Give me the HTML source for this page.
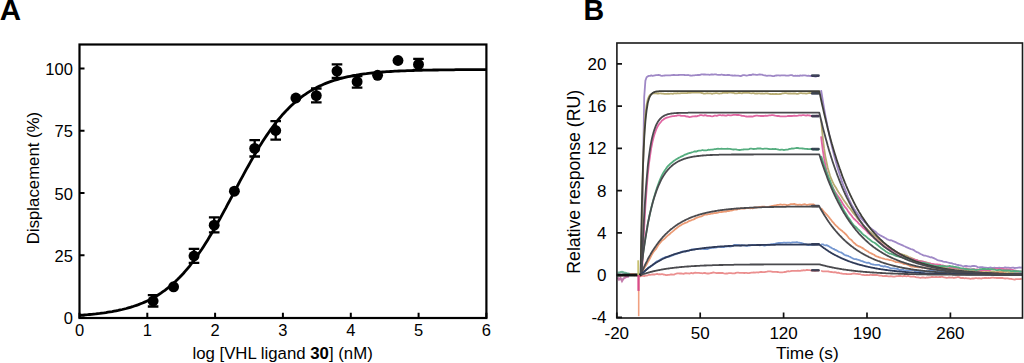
<!DOCTYPE html>
<html><head><meta charset="utf-8"><style>
html,body{margin:0;padding:0;background:#fff;width:1024px;height:363px;overflow:hidden}
svg{display:block}
text{font-family:"Liberation Sans",sans-serif;font-size:16.5px;fill:#000}
.pb text{font-size:17px}
.big{font-weight:bold;font-size:28px}
</style></head><body>
<svg width="1024" height="363" viewBox="0 0 1024 363">
<text class="big" x="-0.2" y="20.3" style="font-size:29.5px">A</text>
<text class="big" x="583.6" y="20.3" style="font-size:28.6px">B</text>
<rect x="79.5" y="44.5" width="406.9" height="273.5" fill="none" stroke="#000" stroke-width="2.2"/>
<path d="M79.5 317.5H84.5M79.5 255.3H84.5M79.5 193.1H84.5M79.5 130.8H84.5M79.5 68.6H84.5M79.5 318V312.8M147.3 318V312.8M215.1 318V312.8M282.9 318V312.8M350.8 318V312.8M418.6 318V312.8M486.4 318V312.8" stroke="#000" stroke-width="2" fill="none"/>
<text x="72.9" y="324" text-anchor="end">0</text>
<text x="72.9" y="261.8" text-anchor="end">25</text>
<text x="72.9" y="199.6" text-anchor="end">50</text>
<text x="72.9" y="137.3" text-anchor="end">75</text>
<text x="72.9" y="75.1" text-anchor="end">100</text>
<text x="79.5" y="336.2" text-anchor="middle">0</text>
<text x="147.3" y="336.2" text-anchor="middle">1</text>
<text x="215.1" y="336.2" text-anchor="middle">2</text>
<text x="282.9" y="336.2" text-anchor="middle">3</text>
<text x="350.8" y="336.2" text-anchor="middle">4</text>
<text x="418.6" y="336.2" text-anchor="middle">5</text>
<text x="486.4" y="336.2" text-anchor="middle">6</text>
<text x="282.6" y="359.1" text-anchor="middle" style="font-size:16.8px">log [VHL ligand <tspan font-weight="bold">30</tspan>] (nM)</text>
<text transform="translate(38.7 178) rotate(-90)" text-anchor="middle" style="font-size:16.8px">Displacement (%)</text>
<path d="M79.5,315.3 L81.5,315.1 L83.6,315 L85.6,314.8 L87.6,314.7 L89.7,314.5 L91.7,314.3 L93.7,314.1 L95.8,313.9 L97.8,313.6 L99.8,313.4 L101.9,313.1 L103.9,312.9 L105.9,312.6 L108,312.2 L110,311.9 L112.1,311.6 L114.1,311.2 L116.1,310.8 L118.2,310.4 L120.2,309.9 L122.2,309.5 L124.3,309 L126.3,308.5 L128.3,307.9 L130.4,307.3 L132.4,306.7 L134.4,306 L136.5,305.3 L138.5,304.6 L140.5,303.8 L142.6,303 L144.6,302.1 L146.6,301.2 L148.7,300.2 L150.7,299.2 L152.7,298.1 L154.8,296.9 L156.8,295.7 L158.8,294.5 L160.9,293.1 L162.9,291.7 L164.9,290.3 L167,288.7 L169,287.1 L171.1,285.4 L173.1,283.6 L175.1,281.8 L177.2,279.8 L179.2,277.8 L181.2,275.7 L183.3,273.5 L185.3,271.2 L187.3,268.8 L189.4,266.3 L191.4,263.7 L193.4,261.1 L195.5,258.3 L197.5,255.5 L199.5,252.5 L201.6,249.5 L203.6,246.4 L205.6,243.2 L207.7,239.9 L209.7,236.6 L211.7,233.2 L213.8,229.7 L215.8,226.1 L217.8,222.5 L219.9,218.8 L221.9,215.1 L223.9,211.4 L226,207.6 L228,203.7 L230.1,199.9 L232.1,196.1 L234.1,192.2 L236.2,188.3 L238.2,184.5 L240.2,180.7 L242.3,176.9 L244.3,173.1 L246.3,169.4 L248.4,165.7 L250.4,162.1 L252.4,158.5 L254.5,155 L256.5,151.5 L258.5,148.1 L260.6,144.8 L262.6,141.6 L264.6,138.5 L266.7,135.4 L268.7,132.5 L270.7,129.6 L272.8,126.8 L274.8,124.1 L276.8,121.5 L278.9,119 L280.9,116.6 L282.9,114.2 L285,112 L287,109.9 L289.1,107.8 L291.1,105.8 L293.1,103.9 L295.2,102.1 L297.2,100.4 L299.2,98.8 L301.3,97.2 L303.3,95.7 L305.3,94.3 L307.4,92.9 L309.4,91.6 L311.4,90.4 L313.5,89.3 L315.5,88.2 L317.5,87.1 L319.6,86.1 L321.6,85.2 L323.6,84.3 L325.7,83.4 L327.7,82.6 L329.7,81.9 L331.8,81.2 L333.8,80.5 L335.8,79.9 L337.9,79.3 L339.9,78.7 L342,78.2 L344,77.7 L346,77.2 L348.1,76.7 L350.1,76.3 L352.1,75.9 L354.2,75.5 L356.2,75.2 L358.2,74.8 L360.3,74.5 L362.3,74.2 L364.3,73.9 L366.4,73.7 L368.4,73.4 L370.4,73.2 L372.5,73 L374.5,72.8 L376.5,72.6 L378.6,72.4 L380.6,72.2 L382.6,72 L384.7,71.9 L386.7,71.7 L388.7,71.6 L390.8,71.5 L392.8,71.4 L394.8,71.2 L396.9,71.1 L398.9,71 L401,70.9 L403,70.9 L405,70.8 L407.1,70.7 L409.1,70.6 L411.1,70.6 L413.2,70.5 L415.2,70.4 L417.2,70.4 L419.3,70.3 L421.3,70.3 L423.3,70.2 L425.4,70.2 L427.4,70.1 L429.4,70.1 L431.5,70.1 L433.5,70 L435.5,70 L437.6,70 L439.6,69.9 L441.6,69.9 L443.7,69.9 L445.7,69.8 L447.7,69.8 L449.8,69.8 L451.8,69.8 L453.8,69.8 L455.9,69.7 L457.9,69.7 L460,69.7 L462,69.7 L464,69.7 L466.1,69.7 L468.1,69.7 L470.1,69.7 L472.2,69.6 L474.2,69.6 L476.2,69.6 L478.3,69.6 L480.3,69.6 L482.3,69.6 L484.4,69.6 L486.4,69.6" fill="none" stroke="#000" stroke-width="2.8" stroke-linejoin="round"/>
<path d="M153.1 295.2V306.5M147.8 295.2H158.4M147.8 306.5H158.4" stroke="#000" stroke-width="2.3" fill="none"/>
<circle cx="153.1" cy="301" r="5.45" fill="#000"/>
<circle cx="173.6" cy="286.8" r="5.45" fill="#000"/>
<path d="M194 248.8V262.9M188.7 248.8H199.3M188.7 262.9H199.3" stroke="#000" stroke-width="2.3" fill="none"/>
<circle cx="194" cy="256" r="5.45" fill="#000"/>
<path d="M214.2 217.4V232.3M208.9 217.4H219.5M208.9 232.3H219.5" stroke="#000" stroke-width="2.3" fill="none"/>
<circle cx="214.2" cy="225.2" r="5.45" fill="#000"/>
<circle cx="234.4" cy="191.2" r="5.45" fill="#000"/>
<path d="M254.7 140.2V156.5M249.4 140.2H260M249.4 156.5H260" stroke="#000" stroke-width="2.3" fill="none"/>
<circle cx="254.7" cy="148.4" r="5.45" fill="#000"/>
<path d="M275.7 121.1V139.7M270.4 121.1H281M270.4 139.7H281" stroke="#000" stroke-width="2.3" fill="none"/>
<circle cx="275.7" cy="130.5" r="5.45" fill="#000"/>
<circle cx="295.9" cy="98" r="5.45" fill="#000"/>
<path d="M316.3 88.5V102.4M311 88.5H321.6M311 102.4H321.6" stroke="#000" stroke-width="2.3" fill="none"/>
<circle cx="316.3" cy="95.6" r="5.45" fill="#000"/>
<path d="M337 64.4V78M331.7 64.4H342.3M331.7 78H342.3" stroke="#000" stroke-width="2.3" fill="none"/>
<circle cx="337" cy="71.1" r="5.45" fill="#000"/>
<path d="M357.1 76V87.7M351.8 76H362.4M351.8 87.7H362.4" stroke="#000" stroke-width="2.3" fill="none"/>
<circle cx="357.1" cy="81.7" r="5.45" fill="#000"/>
<circle cx="377.6" cy="75.3" r="5.45" fill="#000"/>
<circle cx="398" cy="60.5" r="5.45" fill="#000"/>
<path d="M418.5 58.9V69.9M413.2 58.9H423.8M413.2 69.9H423.8" stroke="#000" stroke-width="2.3" fill="none"/>
<circle cx="418.5" cy="64.4" r="5.45" fill="#000"/>
<g><path d="M616.8,275.5 L618,275.2 L619.2,275.2 L620.3,275.1 L621.5,274.8 L622.7,274.6 L623.9,274.7 L625.1,274.3 L626.3,274.5 L627.5,274.5 L628.7,274.4 L629.9,274.5 L631.1,274.6 L632.3,274.9 L633.5,275.1 L634.6,275 L635.8,274.9 L637,275.1 L638.2,275 L639.4,275.2 L640.6,274.9 L641.8,275.1 L643,170 L644.2,97 L645.4,80.6 L646.6,77.2 L647.7,76.4 L648.9,75.9 L650.1,75.9 L651.3,75.4 L652.5,75.8 L653.7,75.6 L654.9,75.4 L656.1,75.2 L657.3,75.2 L658.5,75 L659.7,75.2 L660.9,75.7 L662,75.8 L663.2,75.6 L664.4,75.5 L665.6,75.3 L666.8,75.4 L668,75.3 L669.2,75.4 L670.4,75.3 L671.6,75.1 L672.8,75 L674,74.8 L675.2,75.1 L676.3,75.1 L677.5,75.1 L678.7,75 L679.9,74.9 L681.1,74.9 L682.3,74.9 L683.5,74.8 L684.7,75 L685.9,75.1 L687.1,75.1 L688.3,75 L689.4,75.3 L690.6,75.5 L691.8,75.6 L693,75.3 L694.2,75.3 L695.4,75.2 L696.6,75.1 L697.8,75 L699,75 L700.2,74.8 L701.4,74.3 L702.6,74.3 L703.7,74.5 L704.9,74.4 L706.1,74.6 L707.3,74.6 L708.5,74.6 L709.7,74.9 L710.9,74.5 L712.1,74.3 L713.3,74.6 L714.5,74.4 L715.7,74.3 L716.8,74.7 L718,74.8 L719.2,74.9 L720.4,74.9 L721.6,74.5 L722.8,74.9 L724,75 L725.2,75.2 L726.4,75.2 L727.6,75 L728.8,74.9 L730,75.2 L731.1,75.4 L732.3,75.5 L733.5,75.6 L734.7,75.3 L735.9,75.7 L737.1,75.6 L738.3,75.6 L739.5,75.8 L740.7,76.2 L741.9,75.7 L743.1,75.2 L744.3,75.1 L745.4,75.3 L746.6,75.6 L747.8,75.4 L749,75 L750.2,75 L751.4,75 L752.6,74.3 L753.8,74.5 L755,74.6 L756.2,74.8 L757.4,74.8 L758.5,74.6 L759.7,74.4 L760.9,74.7 L762.1,74.7 L763.3,75.1 L764.5,75.4 L765.7,75.5 L766.9,75.9 L768.1,75.7 L769.3,75.7 L770.5,75.7 L771.7,75.9 L772.8,76.1 L774,76.1 L775.2,75.7 L776.4,75.5 L777.6,75.4 L778.8,75.4 L780,75.7 L781.2,75.4 L782.4,75.3 L783.6,75.3 L784.8,75.3 L786,75.6 L787.1,75.6 L788.3,75.7 L789.5,75.3 L790.7,75.2 L791.9,75.1 L793.1,75.8 L794.3,75.8 L795.5,75.7 L796.7,75.9 L797.9,75.7 L799.1,76 L800.2,75.4 L801.4,75.6 L802.6,75.5 L803.8,75.4 L805,75.4 L806.2,75.6 L807.4,75.9 L808.6,75.6 L809.8,76 L811,75.8 L812.2,76.2 L813.4,76.1 L814.5,76.4 L815.7,76.7 L816.9,76.1 L818.1,76 L819.3,75.9 M821.1,90.2 L821.7,93.7 L822.9,101.1 L824.1,108.4 L825.3,115.1 L826.5,121.1 L827.6,126.6 L828.8,132.6 L830,138.3 L831.2,143.6 L832.4,148.5 L833.6,153.4 L834.8,158.1 L836,162.3 L837.2,166.4 L838.4,170.4 L839.6,174.3 L840.8,177.9 L841.9,181.4 L843.1,184.5 L844.3,187.7 L845.5,190.6 L846.7,193.4 L847.9,196.5 L849.1,199.3 L850.3,201.8 L851.5,204.4 L852.7,206.4 L853.9,208.4 L855.1,210.2 L856.2,211.9 L857.4,213.6 L858.6,215.3 L859.8,216.6 L861,218.2 L862.2,219.5 L863.4,220.7 L864.6,222.1 L865.8,223.2 L867,224.8 L868.2,226.1 L869.3,227.1 L870.5,227.9 L871.7,229.1 L872.9,229.8 L874.1,230.7 L875.3,231.5 L876.5,232.7 L877.7,233.7 L878.9,234.5 L880.1,235.4 L881.3,235.9 L882.5,236.5 L883.6,237.1 L884.8,237.8 L886,238.4 L887.2,239.3 L888.4,239.7 L889.6,240.3 L890.8,240.2 L892,240.5 L893.2,241.2 L894.4,241.6 L895.6,242.1 L896.8,242.7 L897.9,243.4 L899.1,243.8 L900.3,244.4 L901.5,244.9 L902.7,245.4 L903.9,246 L905.1,246.5 L906.3,247.1 L907.5,247.6 L908.7,248.1 L909.9,248.7 L911,249.1 L912.2,249.3 L913.4,249.8 L914.6,250.8 L915.8,251.5 L917,252.2 L918.2,252.5 L919.4,253.4 L920.6,254 L921.8,254.5 L923,255.1 L924.2,255.6 L925.3,255.7 L926.5,256 L927.7,256.3 L928.9,256.7 L930.1,257.3 L931.3,257.2 L932.5,257.7 L933.7,258.2 L934.9,258.7 L936.1,259.3 L937.3,260.1 L938.5,260.3 L939.6,260.6 L940.8,260.9 L942,261 L943.2,261.6 L944.4,261.8 L945.6,261.8 L946.8,262.2 L948,262.5 L949.2,262.8 L950.4,263.1 L951.6,263.2 L952.7,263.6 L953.9,263.9 L955.1,264.1 L956.3,264.6 L957.5,265 L958.7,265 L959.9,265.3 L961.1,265.5 L962.3,266 L963.5,266.3 L964.7,266 L965.9,265.8 L967,266 L968.2,266.3 L969.4,266.4 L970.6,266.7 L971.8,266.2 L973,266 L974.2,266 L975.4,266.1 L976.6,266.4 L977.8,267.2 L979,267.3 L980.1,267.2 L981.3,267.2 L982.5,267.1 L983.7,267.5 L984.9,267.6 L986.1,267.7 L987.3,268 L988.5,267.9 L989.7,267.6 L990.9,267.5 L992.1,267.8 L993.3,267.8 L994.4,267.7 L995.6,267.9 L996.8,267.8 L998,267.8 L999.2,267.6 L1000.4,267.9 L1001.6,267.9 L1002.8,267.8 L1004,267.6 L1005.2,267.3 L1006.4,267.6 L1007.6,267.6 L1008.7,267.7 L1009.9,267.8 L1011.1,267.9 L1012.3,267.7 L1013.5,267.6 L1014.7,268.1 L1015.9,267.9 L1017.1,267.9 L1018.3,267.6 L1019.5,267.4 L1020.7,267.7 L1021.8,267.5" fill="none" stroke="#9f88c6" stroke-width="1.8" stroke-linejoin="round"/>
<path d="M616.8,275.2 L618,275.2 L619.2,275.3 L620.3,275.2 L621.5,275 L622.7,275 L623.9,274.7 L625.1,274.5 L626.3,274.6 L627.5,274.4 L628.7,274.1 L629.9,274 L631.1,273.8 L632.3,273.9 L633.5,274 L634.6,273.9 L635.8,274 L637,274.3 L638.2,274.4 L639.4,274.3 L640.6,274.4 L641.8,227.1 L643,166.4 L644.2,133 L645.4,114.6 L646.6,104.9 L647.7,99.6 L648.9,96.5 L650.1,94.9 L651.3,94.2 L652.5,93.5 L653.7,93.4 L654.9,93.3 L656.1,93.4 L657.3,93.5 L658.5,93.5 L659.7,93.4 L660.9,93.4 L662,93.7 L663.2,93.6 L664.4,93.9 L665.6,93.8 L666.8,93.8 L668,93.7 L669.2,93.8 L670.4,93.7 L671.6,93.7 L672.8,93.8 L674,93.3 L675.2,93.4 L676.3,93.5 L677.5,93.2 L678.7,93.3 L679.9,93.4 L681.1,93.1 L682.3,93.1 L683.5,93.1 L684.7,93.1 L685.9,93.1 L687.1,93 L688.3,92.8 L689.4,92.9 L690.6,92.8 L691.8,92.6 L693,92.6 L694.2,92.7 L695.4,92.7 L696.6,92.4 L697.8,92.5 L699,92.6 L700.2,92.6 L701.4,93 L702.6,93.2 L703.7,93.6 L704.9,93.6 L706.1,93.3 L707.3,93.2 L708.5,93.4 L709.7,93.4 L710.9,93.4 L712.1,93.8 L713.3,93.4 L714.5,93.4 L715.7,93.1 L716.8,93.2 L718,93.4 L719.2,93.6 L720.4,93.4 L721.6,93.4 L722.8,92.9 L724,92.7 L725.2,92.8 L726.4,92.8 L727.6,93 L728.8,92.6 L730,92.5 L731.1,92.7 L732.3,92.9 L733.5,92.8 L734.7,93.4 L735.9,93.3 L737.1,93.3 L738.3,93 L739.5,92.9 L740.7,93.1 L741.9,93.3 L743.1,92.8 L744.3,92.9 L745.4,92.8 L746.6,92.8 L747.8,92.8 L749,92.8 L750.2,93.2 L751.4,93.3 L752.6,93.2 L753.8,93.2 L755,93.6 L756.2,93.4 L757.4,93.5 L758.5,93.4 L759.7,93.3 L760.9,93.6 L762.1,93.4 L763.3,93.6 L764.5,93.7 L765.7,93.3 L766.9,93.3 L768.1,93.5 L769.3,93.8 L770.5,94 L771.7,94.2 L772.8,93.8 L774,94.1 L775.2,94 L776.4,93.9 L777.6,94.2 L778.8,94.2 L780,94 L781.2,93.8 L782.4,93.4 L783.6,93.4 L784.8,93.2 L786,93.2 L787.1,93.3 L788.3,93.5 L789.5,93.5 L790.7,93.3 L791.9,93.6 L793.1,93.5 L794.3,93.5 L795.5,93.5 L796.7,93.9 L797.9,93.8 L799.1,93.4 L800.2,93.2 L801.4,93.2 L802.6,93.4 L803.8,93.3 L805,93.3 L806.2,93.6 L807.4,93.3 L808.6,93.1 L809.8,93 L811,93.2 L812.2,93.1 L813.4,93.1 L814.5,93.1 L815.7,93 L816.9,93.2 L818.1,93 L819.3,93.1 M821.1,119.7 L821.7,126.7 L822.9,138.6 L824.1,148.4 L825.3,156.1 L826.5,162 L827.6,167.3 L828.8,171.6 L830,175.6 L831.2,178.7 L832.4,181.4 L833.6,183.9 L834.8,186.1 L836,187.8 L837.2,190 L838.4,192 L839.6,193.8 L840.8,195.5 L841.9,197.3 L843.1,199.2 L844.3,200.9 L845.5,202.6 L846.7,204.1 L847.9,206.2 L849.1,207.5 L850.3,208.9 L851.5,210.5 L852.7,212.3 L853.9,213.7 L855.1,215.2 L856.2,216.5 L857.4,218.1 L858.6,219.7 L859.8,221 L861,222.4 L862.2,224 L863.4,225.5 L864.6,226.6 L865.8,227.8 L867,228.8 L868.2,230.2 L869.3,231.2 L870.5,232.3 L871.7,233.3 L872.9,234.4 L874.1,235.5 L875.3,236.2 L876.5,237.3 L877.7,238.5 L878.9,239.4 L880.1,240.3 L881.3,241.5 L882.5,242.3 L883.6,243.1 L884.8,243.9 L886,244.8 L887.2,245.8 L888.4,246.6 L889.6,247.3 L890.8,248.3 L892,249.2 L893.2,249.8 L894.4,250.8 L895.6,251.5 L896.8,252.2 L897.9,252.8 L899.1,253.4 L900.3,253.8 L901.5,254.1 L902.7,254.7 L903.9,254.9 L905.1,255.4 L906.3,255.7 L907.5,256.4 L908.7,257.1 L909.9,257.3 L911,257.9 L912.2,258.3 L913.4,258.8 L914.6,259.4 L915.8,260 L917,260.2 L918.2,260.6 L919.4,260.8 L920.6,260.9 L921.8,261.5 L923,261.7 L924.2,261.9 L925.3,262.4 L926.5,262.4 L927.7,262.8 L928.9,263.2 L930.1,263.5 L931.3,263.9 L932.5,264.1 L933.7,264.3 L934.9,264.8 L936.1,265.2 L937.3,265.6 L938.5,266 L939.6,266.2 L940.8,266.7 L942,267.1 L943.2,267.3 L944.4,267.7 L945.6,268.1 L946.8,268.3 L948,268.4 L949.2,268.4 L950.4,268.6 L951.6,268.7 L952.7,268.8 L953.9,268.7 L955.1,268.9 L956.3,268.7 L957.5,268.8 L958.7,269 L959.9,269.1 L961.1,269.4 L962.3,269.5 L963.5,269.8 L964.7,269.9 L965.9,270 L967,270 L968.2,270.2 L969.4,270.2 L970.6,270.1 L971.8,270.3 L973,270 L974.2,269.8 L975.4,270.2 L976.6,270.5 L977.8,270.4 L979,270.5 L980.1,270.6 L981.3,270.7 L982.5,270.9 L983.7,270.6 L984.9,270.9 L986.1,271.1 L987.3,270.9 L988.5,270.9 L989.7,271.3 L990.9,271.3 L992.1,271.4 L993.3,271.4 L994.4,271.7 L995.6,272.3 L996.8,272 L998,272.1 L999.2,272 L1000.4,272 L1001.6,272 L1002.8,271.7 L1004,271.9 L1005.2,272.1 L1006.4,271.8 L1007.6,271.6 L1008.7,272.1 L1009.9,272.1 L1011.1,272.1 L1012.3,272.3 L1013.5,272.3 L1014.7,272.5 L1015.9,272.1 L1017.1,272.4 L1018.3,272.6 L1019.5,272.6 L1020.7,272.5 L1021.8,272.7" fill="none" stroke="#b8ac72" stroke-width="1.8" stroke-linejoin="round"/>
<path d="M616.8,275 L618,275.1 L619.2,275.4 L620.3,275.3 L621.5,274.8 L622.7,274.8 L623.9,275.1 L625.1,275 L626.3,275.1 L627.5,274.9 L628.7,274.5 L629.9,274.3 L631.1,274.6 L632.3,274.4 L633.5,274.8 L634.6,274.6 L635.8,274.5 L637,274.7 L638.2,274.4 L639.4,274.8 L640.6,275.1 L641.8,275.4 L643,253.4 L644.2,227.7 L645.4,206.2 L646.6,189.5 L647.7,175.4 L648.9,164.1 L650.1,155.6 L651.3,147.7 L652.5,141.7 L653.7,137 L654.9,133.1 L656.1,129.6 L657.3,127 L658.5,125 L659.7,123.3 L660.9,122 L662,120.4 L663.2,119.8 L664.4,118.8 L665.6,118.1 L666.8,117.6 L668,117.3 L669.2,117 L670.4,116.7 L671.6,116.4 L672.8,116.2 L674,116.1 L675.2,115.8 L676.3,115.8 L677.5,115.4 L678.7,115.3 L679.9,115.4 L681.1,115.9 L682.3,115.8 L683.5,115.9 L684.7,115.8 L685.9,116.3 L687.1,116.5 L688.3,116.7 L689.4,117.1 L690.6,116.9 L691.8,116.6 L693,116.4 L694.2,116.4 L695.4,116.1 L696.6,116.4 L697.8,115.9 L699,115.6 L700.2,115.1 L701.4,115.1 L702.6,115.4 L703.7,115.6 L704.9,115.1 L706.1,115.4 L707.3,115.9 L708.5,115.8 L709.7,115.8 L710.9,116.2 L712.1,116.4 L713.3,116.1 L714.5,115.7 L715.7,115.6 L716.8,115.8 L718,115.4 L719.2,115.2 L720.4,115.2 L721.6,115.5 L722.8,115.2 L724,115.3 L725.2,115.5 L726.4,115.6 L727.6,115.1 L728.8,115.2 L730,115.3 L731.1,115.3 L732.3,115.1 L733.5,114.9 L734.7,114.9 L735.9,114.8 L737.1,115 L738.3,114.8 L739.5,115.2 L740.7,115.3 L741.9,115.8 L743.1,115.9 L744.3,116 L745.4,116.3 L746.6,116.5 L747.8,116.7 L749,116.3 L750.2,116.5 L751.4,116.4 L752.6,116.6 L753.8,116.2 L755,115.9 L756.2,115.7 L757.4,115.7 L758.5,115.8 L759.7,115.8 L760.9,116 L762.1,115.9 L763.3,116 L764.5,115.8 L765.7,115.6 L766.9,115.8 L768.1,115.6 L769.3,115.4 L770.5,115.3 L771.7,115.2 L772.8,115.2 L774,115.4 L775.2,115.7 L776.4,115.8 L777.6,116 L778.8,115.9 L780,116.3 L781.2,116.4 L782.4,116.3 L783.6,116.4 L784.8,116.3 L786,116.3 L787.1,116.2 L788.3,116 L789.5,115.9 L790.7,116 L791.9,116 L793.1,115.9 L794.3,115.6 L795.5,115.9 L796.7,115.8 L797.9,115.6 L799.1,115.3 L800.2,115.3 L801.4,115.5 L802.6,115.2 L803.8,115.2 L805,115.3 L806.2,115.6 L807.4,115.2 L808.6,115.4 L809.8,115.5 L811,115.8 L812.2,116 L813.4,116.1 L814.5,116.1 L815.7,116 L816.9,115.7 L818.1,116 L819.3,116.4 M821.1,136.3 L821.7,141.7 L822.9,150.9 L824.1,158.4 L825.3,164.7 L826.5,170.4 L827.6,174.8 L828.8,179 L830,182 L831.2,184.5 L832.4,186.7 L833.6,189.3 L834.8,191.5 L836,193.3 L837.2,195.1 L838.4,196.7 L839.6,198.6 L840.8,200.3 L841.9,202.2 L843.1,204.2 L844.3,206 L845.5,207.7 L846.7,208.9 L847.9,210.9 L849.1,212.6 L850.3,214.1 L851.5,215.5 L852.7,217.2 L853.9,218.7 L855.1,219.7 L856.2,220.9 L857.4,221.9 L858.6,223.3 L859.8,224.6 L861,225.7 L862.2,226.8 L863.4,228.1 L864.6,229.1 L865.8,230.1 L867,231.4 L868.2,232.9 L869.3,233.7 L870.5,234.9 L871.7,235.6 L872.9,236.5 L874.1,237.9 L875.3,238.6 L876.5,239.5 L877.7,240.7 L878.9,241.6 L880.1,242.6 L881.3,243.7 L882.5,244.6 L883.6,245.8 L884.8,246.8 L886,247.3 L887.2,248.2 L888.4,248.7 L889.6,249 L890.8,249.6 L892,249.9 L893.2,250.5 L894.4,251.1 L895.6,251.8 L896.8,252.1 L897.9,252.9 L899.1,253.8 L900.3,254.6 L901.5,255.4 L902.7,255.7 L903.9,256.3 L905.1,257 L906.3,257.3 L907.5,257.7 L908.7,258.2 L909.9,258.5 L911,258.6 L912.2,259 L913.4,259.3 L914.6,259.8 L915.8,260 L917,260.2 L918.2,260.8 L919.4,261.1 L920.6,261.5 L921.8,261.5 L923,261.7 L924.2,261.9 L925.3,262.3 L926.5,262.8 L927.7,263.2 L928.9,263.3 L930.1,263.4 L931.3,263.8 L932.5,263.8 L933.7,264.4 L934.9,264.5 L936.1,264.5 L937.3,264.4 L938.5,264.6 L939.6,264.6 L940.8,265.1 L942,265.3 L943.2,265.5 L944.4,266 L945.6,266.1 L946.8,266.4 L948,266.5 L949.2,267 L950.4,267.1 L951.6,267.5 L952.7,267.6 L953.9,267.9 L955.1,267.8 L956.3,267.7 L957.5,267.9 L958.7,268.1 L959.9,268.6 L961.1,268.8 L962.3,268.9 L963.5,268.7 L964.7,268.7 L965.9,268.4 L967,268.5 L968.2,268.9 L969.4,269.2 L970.6,269.4 L971.8,269.4 L973,269.2 L974.2,269.1 L975.4,269.6 L976.6,269.4 L977.8,269.5 L979,270 L980.1,270.1 L981.3,269.8 L982.5,270 L983.7,270 L984.9,270.1 L986.1,270.2 L987.3,269.9 L988.5,270 L989.7,270.3 L990.9,269.4 L992.1,269.2 L993.3,268.9 L994.4,268.8 L995.6,268.6 L996.8,268.7 L998,268.8 L999.2,268.8 L1000.4,268.9 L1001.6,268.7 L1002.8,269 L1004,269.1 L1005.2,269.5 L1006.4,269.2 L1007.6,269.3 L1008.7,269.3 L1009.9,269.3 L1011.1,269.7 L1012.3,269.9 L1013.5,270.2 L1014.7,270.5 L1015.9,270.7 L1017.1,271.1 L1018.3,271.3 L1019.5,271.4 L1020.7,271.3 L1021.8,271.3" fill="none" stroke="#e066a2" stroke-width="1.8" stroke-linejoin="round"/>
<path d="M616.8,275.2 L618,275.7 L619.2,275.7 L620.3,275.3 L621.5,274.9 L622.7,274.8 L623.9,275 L625.1,275 L626.3,274.5 L627.5,274.4 L628.7,274.8 L629.9,274.8 L631.1,275 L632.3,275 L633.5,274.8 L634.6,274.9 L635.8,274.7 L637,274.6 L638.2,274.8 L639.4,274.6 L640.6,274.5 L641.8,263.7 L643,254.1 L644.2,245.7 L645.4,238.1 L646.6,230.8 L647.7,224.3 L648.9,218.3 L650.1,212.8 L651.3,207.7 L652.5,202.9 L653.7,198.5 L654.9,194.6 L656.1,190.6 L657.3,186.8 L658.5,183.6 L659.7,180.4 L660.9,177.6 L662,175.1 L663.2,172.9 L664.4,171 L665.6,169.3 L666.8,167.4 L668,166 L669.2,164.8 L670.4,163.6 L671.6,162.7 L672.8,161.8 L674,160.8 L675.2,160 L676.3,159.2 L677.5,158.6 L678.7,157.9 L679.9,157.3 L681.1,156.6 L682.3,156.1 L683.5,155.6 L684.7,154.6 L685.9,154.5 L687.1,153.9 L688.3,153.4 L689.4,153 L690.6,152.9 L691.8,152.3 L693,152 L694.2,151.5 L695.4,151.3 L696.6,151.5 L697.8,150.9 L699,150.7 L700.2,150.6 L701.4,150.4 L702.6,150 L703.7,150.3 L704.9,150.3 L706.1,150.4 L707.3,150.1 L708.5,149.7 L709.7,149.8 L710.9,149.6 L712.1,149.6 L713.3,149.5 L714.5,149.2 L715.7,149.1 L716.8,148.8 L718,148.7 L719.2,148.8 L720.4,148.9 L721.6,148.7 L722.8,148.8 L724,148.9 L725.2,148.8 L726.4,148.9 L727.6,148.7 L728.8,148.8 L730,148.9 L731.1,149.1 L732.3,149.3 L733.5,149.5 L734.7,149.3 L735.9,149.3 L737.1,149.6 L738.3,149.8 L739.5,150 L740.7,149.8 L741.9,149.6 L743.1,149.5 L744.3,149.3 L745.4,149.4 L746.6,149.4 L747.8,149.4 L749,149.1 L750.2,148.7 L751.4,148.7 L752.6,148.8 L753.8,149 L755,148.9 L756.2,148.8 L757.4,148.4 L758.5,148.5 L759.7,148.3 L760.9,148.5 L762.1,148.8 L763.3,148.9 L764.5,148.7 L765.7,148.7 L766.9,148.6 L768.1,148.8 L769.3,149 L770.5,149.1 L771.7,149.1 L772.8,148.9 L774,149.1 L775.2,148.9 L776.4,149.2 L777.6,149.3 L778.8,149.7 L780,149.8 L781.2,149.6 L782.4,149.7 L783.6,150 L784.8,149.8 L786,149.7 L787.1,149.6 L788.3,149.3 L789.5,148.9 L790.7,148.8 L791.9,148.4 L793.1,148.6 L794.3,148.3 L795.5,148.2 L796.7,148 L797.9,147.9 L799.1,148.3 L800.2,148.3 L801.4,148.4 L802.6,148.5 L803.8,148.6 L805,148.8 L806.2,148.9 L807.4,149 L808.6,149.1 L809.8,149.2 L811,148.8 L812.2,149 L813.4,149.5 L814.5,149.2 L815.7,149.5 L816.9,149.4 L818.1,149.6 L819.3,149 M821.1,155.9 L821.7,157.8 L822.9,161.6 L824.1,165.4 L825.3,168.5 L826.5,172 L827.6,174.7 L828.8,177.9 L830,180.6 L831.2,184.1 L832.4,187 L833.6,189.9 L834.8,192.7 L836,194.9 L837.2,197.3 L838.4,199.7 L839.6,202 L840.8,204.2 L841.9,206.7 L843.1,209 L844.3,211.1 L845.5,213.1 L846.7,215 L847.9,217 L849.1,218.6 L850.3,220.2 L851.5,222.4 L852.7,223.9 L853.9,225.5 L855.1,226.4 L856.2,227.3 L857.4,228.7 L858.6,229.6 L859.8,231 L861,232.2 L862.2,233.6 L863.4,234.7 L864.6,235.5 L865.8,236.3 L867,237.4 L868.2,238.5 L869.3,239.3 L870.5,240.2 L871.7,241.3 L872.9,242 L874.1,242.5 L875.3,243.3 L876.5,244.2 L877.7,245.2 L878.9,246.3 L880.1,247.2 L881.3,248.3 L882.5,249.1 L883.6,249.7 L884.8,250.6 L886,251.7 L887.2,252.3 L888.4,253 L889.6,253.6 L890.8,253.7 L892,254.3 L893.2,254.4 L894.4,255.1 L895.6,255.6 L896.8,256.2 L897.9,256.3 L899.1,256.6 L900.3,257.1 L901.5,257.2 L902.7,257.6 L903.9,257.6 L905.1,257.9 L906.3,258.1 L907.5,258.2 L908.7,258.5 L909.9,259 L911,259.7 L912.2,259.9 L913.4,260.6 L914.6,261.1 L915.8,261.9 L917,262.1 L918.2,262.2 L919.4,262.6 L920.6,262.6 L921.8,262.8 L923,262.7 L924.2,262.9 L925.3,263.2 L926.5,263.6 L927.7,263.6 L928.9,264 L930.1,264.6 L931.3,265 L932.5,265.5 L933.7,265.6 L934.9,265.7 L936.1,266.1 L937.3,266.2 L938.5,265.9 L939.6,265.8 L940.8,266.2 L942,266 L943.2,266.1 L944.4,266.1 L945.6,266.5 L946.8,266.6 L948,266.3 L949.2,266 L950.4,266.2 L951.6,266.5 L952.7,266.4 L953.9,266.8 L955.1,266.9 L956.3,267.1 L957.5,267.3 L958.7,267.5 L959.9,268.2 L961.1,268.3 L962.3,268.4 L963.5,268.5 L964.7,268.9 L965.9,269 L967,269.1 L968.2,269.5 L969.4,269.5 L970.6,269.7 L971.8,269.4 L973,269.5 L974.2,269.5 L975.4,269.8 L976.6,270 L977.8,269.8 L979,269.6 L980.1,269.2 L981.3,269.1 L982.5,269 L983.7,268.9 L984.9,269 L986.1,269.2 L987.3,269.2 L988.5,269 L989.7,269.1 L990.9,269.1 L992.1,269.2 L993.3,269.4 L994.4,269.4 L995.6,269.9 L996.8,270.1 L998,270.1 L999.2,269.7 L1000.4,269.8 L1001.6,270.1 L1002.8,270.3 L1004,270.5 L1005.2,270.5 L1006.4,270.5 L1007.6,270.4 L1008.7,270.4 L1009.9,270.6 L1011.1,271.2 L1012.3,271.2 L1013.5,270.9 L1014.7,271 L1015.9,271.1 L1017.1,271.1 L1018.3,271.1 L1019.5,271.3 L1020.7,271.5 L1021.8,271.3" fill="none" stroke="#55ad7f" stroke-width="1.8" stroke-linejoin="round"/>
<path d="M616.8,275.2 L618,275.2 L619.2,275.1 L620.3,275.1 L621.5,275.1 L622.7,275.2 L623.9,275 L625.1,275 L626.3,275.1 L627.5,275.5 L628.7,275.1 L629.9,274.9 L631.1,275.1 L632.3,275.1 L633.5,274.8 L634.6,274.8 L635.8,274.9 L637,275.3 L638.2,275.1 L639.4,275.5 L640.6,275.5 L641.8,273.2 L643,270.8 L644.2,268.1 L645.4,266.4 L646.6,264.6 L647.7,262.4 L648.9,260.2 L650.1,258.1 L651.3,255.7 L652.5,253.4 L653.7,251.6 L654.9,250.1 L656.1,248.8 L657.3,246.7 L658.5,244.7 L659.7,243.3 L660.9,242 L662,240.6 L663.2,239.8 L664.4,238.9 L665.6,237.7 L666.8,236.4 L668,235.3 L669.2,234.5 L670.4,233.3 L671.6,232.4 L672.8,231.4 L674,230.4 L675.2,229.1 L676.3,228.5 L677.5,227.4 L678.7,226.6 L679.9,225.8 L681.1,225.1 L682.3,224.3 L683.5,223.7 L684.7,223.1 L685.9,222.6 L687.1,222.3 L688.3,221.5 L689.4,220.9 L690.6,220.6 L691.8,220 L693,219.7 L694.2,219.1 L695.4,218.4 L696.6,217.8 L697.8,217.4 L699,217 L700.2,216.6 L701.4,216.4 L702.6,215.7 L703.7,215.1 L704.9,214.5 L706.1,214.6 L707.3,214.5 L708.5,214.2 L709.7,214.1 L710.9,213.7 L712.1,213.5 L713.3,213.3 L714.5,213 L715.7,213.2 L716.8,212.9 L718,212.6 L719.2,212.2 L720.4,212.2 L721.6,212 L722.8,211.9 L724,211.7 L725.2,211.4 L726.4,211.5 L727.6,210.9 L728.8,211.2 L730,210.7 L731.1,210.6 L732.3,210.4 L733.5,209.9 L734.7,209.7 L735.9,209.5 L737.1,209.5 L738.3,208.7 L739.5,209 L740.7,208.3 L741.9,208.5 L743.1,208.6 L744.3,208.5 L745.4,208.3 L746.6,208.1 L747.8,208.2 L749,208 L750.2,208.3 L751.4,207.8 L752.6,208.3 L753.8,207.8 L755,207.4 L756.2,207.3 L757.4,207.5 L758.5,207.2 L759.7,207 L760.9,206.9 L762.1,206.7 L763.3,206.7 L764.5,206.6 L765.7,207.1 L766.9,207.1 L768.1,207 L769.3,206.6 L770.5,206.3 L771.7,206 L772.8,205.9 L774,205.6 L775.2,205.3 L776.4,205.2 L777.6,204.9 L778.8,204.9 L780,204.5 L781.2,204.7 L782.4,204.9 L783.6,204.6 L784.8,204.7 L786,204.9 L787.1,205.1 L788.3,204.9 L789.5,204.6 L790.7,204.2 L791.9,204.2 L793.1,204.2 L794.3,203.9 L795.5,204.5 L796.7,204.6 L797.9,204.8 L799.1,204.7 L800.2,204.6 L801.4,205 L802.6,204.7 L803.8,204.4 L805,204.2 L806.2,204.8 L807.4,204.8 L808.6,204.6 L809.8,204.4 L811,204.4 L812.2,204.3 L813.4,204.3 L814.5,205.2 L815.7,206 L816.9,206.3 L818.1,206.2 L819.3,205.9 M821.1,208.1 L821.7,208.9 L822.9,210.4 L824.1,211.8 L825.3,213.1 L826.5,214.4 L827.6,215.6 L828.8,217 L830,218.6 L831.2,220 L832.4,221.7 L833.6,222.9 L834.8,224.3 L836,225.6 L837.2,226.7 L838.4,228 L839.6,229.1 L840.8,229.9 L841.9,230.7 L843.1,231.9 L844.3,232.8 L845.5,234 L846.7,235.2 L847.9,236.8 L849.1,238.4 L850.3,239.3 L851.5,240.1 L852.7,241.5 L853.9,242.8 L855.1,243.7 L856.2,244.9 L857.4,245.5 L858.6,246.3 L859.8,246.5 L861,247.2 L862.2,247.9 L863.4,248.6 L864.6,249.5 L865.8,250.3 L867,251 L868.2,251.6 L869.3,252.6 L870.5,253 L871.7,253.6 L872.9,254.2 L874.1,254.8 L875.3,255.7 L876.5,256.4 L877.7,256.6 L878.9,257.3 L880.1,257.5 L881.3,258 L882.5,258.3 L883.6,258.6 L884.8,259 L886,259.3 L887.2,259.3 L888.4,259.7 L889.6,260.1 L890.8,260.1 L892,260.5 L893.2,260.8 L894.4,261.3 L895.6,262.1 L896.8,262.2 L897.9,262.2 L899.1,262.4 L900.3,262.6 L901.5,262.8 L902.7,263.4 L903.9,264 L905.1,264.1 L906.3,264.2 L907.5,264.6 L908.7,265.3 L909.9,265.9 L911,266.6 L912.2,266.6 L913.4,266.7 L914.6,267 L915.8,267 L917,267.2 L918.2,267.3 L919.4,267.3 L920.6,267.3 L921.8,267.6 L923,267.4 L924.2,267.7 L925.3,268.1 L926.5,268.2 L927.7,268.3 L928.9,268.6 L930.1,269 L931.3,269.4 L932.5,269.5 L933.7,269.5 L934.9,269.7 L936.1,269.7 L937.3,269.7 L938.5,269.6 L939.6,269.6 L940.8,270 L942,269.9 L943.2,269.6 L944.4,270 L945.6,270.5 L946.8,270.8 L948,271.2 L949.2,271.3 L950.4,271.8 L951.6,272.1 L952.7,272 L953.9,272.2 L955.1,272.5 L956.3,272.3 L957.5,272.2 L958.7,272.2 L959.9,272.1 L961.1,272.4 L962.3,272.2 L963.5,272.3 L964.7,272.3 L965.9,272.5 L967,272.3 L968.2,272.3 L969.4,272.3 L970.6,271.9 L971.8,272.1 L973,271.7 L974.2,271.9 L975.4,272 L976.6,272.1 L977.8,271.6 L979,271.7 L980.1,272 L981.3,271.9 L982.5,272.4 L983.7,272.5 L984.9,272.9 L986.1,272.6 L987.3,272.5 L988.5,272.5 L989.7,272.9 L990.9,272.9 L992.1,272.9 L993.3,273 L994.4,272.9 L995.6,272.8 L996.8,272.3 L998,272.6 L999.2,272.6 L1000.4,272.5 L1001.6,272.7 L1002.8,272.9 L1004,273.2 L1005.2,273.3 L1006.4,273.7 L1007.6,273.8 L1008.7,274.3 L1009.9,274.4 L1011.1,274.5 L1012.3,274.5 L1013.5,274.5 L1014.7,275 L1015.9,274.4 L1017.1,274.3 L1018.3,274 L1019.5,274.2 L1020.7,274.3 L1021.8,274.1" fill="none" stroke="#eb9a74" stroke-width="1.8" stroke-linejoin="round"/>
<path d="M616.8,274.7 L618,274.7 L619.2,274.7 L620.3,274.6 L621.5,274.8 L622.7,274.5 L623.9,275.1 L625.1,275.1 L626.3,275 L627.5,275 L628.7,275.3 L629.9,275 L631.1,275.1 L632.3,275.2 L633.5,275.2 L634.6,275.2 L635.8,274.6 L637,274.6 L638.2,274.7 L639.4,274.9 L640.6,274.4 L641.8,273.8 L643,273 L644.2,271.8 L645.4,270.6 L646.6,269.2 L647.7,268.5 L648.9,267.4 L650.1,267.1 L651.3,266.1 L652.5,265.3 L653.7,264.3 L654.9,262.9 L656.1,261.9 L657.3,261.1 L658.5,260.8 L659.7,260.1 L660.9,259.4 L662,258.8 L663.2,258 L664.4,257.7 L665.6,257 L666.8,256.9 L668,256.8 L669.2,256.6 L670.4,256.1 L671.6,255.6 L672.8,255.3 L674,254.5 L675.2,254.4 L676.3,253.8 L677.5,253.6 L678.7,253.2 L679.9,252.8 L681.1,252.1 L682.3,251.5 L683.5,251.4 L684.7,251.3 L685.9,251.5 L687.1,251.1 L688.3,250.9 L689.4,250.5 L690.6,250 L691.8,249.4 L693,249.4 L694.2,249.5 L695.4,249.2 L696.6,249 L697.8,249 L699,248.8 L700.2,248.8 L701.4,248.8 L702.6,248.9 L703.7,249 L704.9,248.8 L706.1,249.2 L707.3,249.1 L708.5,248.7 L709.7,248.1 L710.9,248 L712.1,247.7 L713.3,247.8 L714.5,247.6 L715.7,247.5 L716.8,247.4 L718,246.8 L719.2,246.6 L720.4,246.8 L721.6,247.2 L722.8,247.2 L724,247.1 L725.2,246.7 L726.4,246.5 L727.6,246.3 L728.8,246.2 L730,246.6 L731.1,246.4 L732.3,246.1 L733.5,245.2 L734.7,244.9 L735.9,245 L737.1,245 L738.3,245 L739.5,245.3 L740.7,245.6 L741.9,245.1 L743.1,245.3 L744.3,245.4 L745.4,245.7 L746.6,245.9 L747.8,245.6 L749,245.5 L750.2,245.5 L751.4,245.1 L752.6,244.8 L753.8,245.1 L755,244.9 L756.2,245.1 L757.4,245.1 L758.5,245.2 L759.7,245.3 L760.9,245.1 L762.1,245 L763.3,245.3 L764.5,245.5 L765.7,245.3 L766.9,245 L768.1,244.6 L769.3,244.8 L770.5,244.3 L771.7,244.2 L772.8,244.2 L774,243.9 L775.2,243.8 L776.4,243.3 L777.6,243.1 L778.8,242.9 L780,243 L781.2,242.8 L782.4,242.8 L783.6,242.6 L784.8,242.6 L786,242.9 L787.1,242.6 L788.3,242.6 L789.5,242.7 L790.7,242.9 L791.9,242.5 L793.1,242.3 L794.3,242.3 L795.5,242.3 L796.7,242.1 L797.9,242.4 L799.1,242.6 L800.2,242.9 L801.4,243 L802.6,243.4 L803.8,244.1 L805,244.2 L806.2,244.3 L807.4,244.8 L808.6,245.1 L809.8,244.6 L811,244.8 L812.2,244.4 L813.4,244.5 L814.5,244.5 L815.7,244.3 L816.9,244.3 L818.1,244.1 L819.3,244.1 M821.1,244 L821.7,244.4 L822.9,244.3 L824.1,245 L825.3,245.3 L826.5,245.1 L827.6,245.6 L828.8,246.3 L830,247.1 L831.2,247.6 L832.4,248.5 L833.6,248.9 L834.8,249.6 L836,250.1 L837.2,250.8 L838.4,251.6 L839.6,252 L840.8,252.3 L841.9,252.9 L843.1,253.8 L844.3,254.7 L845.5,255.3 L846.7,255.5 L847.9,255.8 L849.1,256.5 L850.3,256.9 L851.5,257.7 L852.7,258.3 L853.9,258.8 L855.1,259.1 L856.2,259.1 L857.4,259.7 L858.6,259.9 L859.8,260.3 L861,260.9 L862.2,261.2 L863.4,261.6 L864.6,262.2 L865.8,262.5 L867,262.9 L868.2,262.7 L869.3,262.9 L870.5,263.8 L871.7,264.1 L872.9,264.5 L874.1,264.7 L875.3,264.8 L876.5,264.8 L877.7,264.9 L878.9,264.8 L880.1,265.5 L881.3,266.1 L882.5,266.1 L883.6,266.6 L884.8,266.2 L886,266.7 L887.2,266.8 L888.4,267.2 L889.6,267.8 L890.8,268.2 L892,268.3 L893.2,268.3 L894.4,268.5 L895.6,268.7 L896.8,268.8 L897.9,269 L899.1,269.8 L900.3,270 L901.5,270 L902.7,269.7 L903.9,270.2 L905.1,270.4 L906.3,270.4 L907.5,270.3 L908.7,270.7 L909.9,270.4 L911,270.1 L912.2,270 L913.4,270.2 L914.6,271 L915.8,271 L917,271.2 L918.2,271.6 L919.4,271.3 L920.6,271.7 L921.8,271.9 L923,271.6 L924.2,271.6 L925.3,271.4 L926.5,271.1 L927.7,271.2 L928.9,270.8 L930.1,270.4 L931.3,271.1 L932.5,270.7 L933.7,270.9 L934.9,271.1 L936.1,271.5 L937.3,271.5 L938.5,271.5 L939.6,271.4 L940.8,271.8 L942,272 L943.2,272 L944.4,272 L945.6,272.1 L946.8,272.1 L948,271.9 L949.2,271.6 L950.4,271.8 L951.6,271.7 L952.7,271.7 L953.9,271.9 L955.1,272.3 L956.3,272.2 L957.5,272.7 L958.7,272.7 L959.9,273.2 L961.1,273.8 L962.3,273.5 L963.5,273.9 L964.7,273.8 L965.9,273.8 L967,273.7 L968.2,273.8 L969.4,273.1 L970.6,273.2 L971.8,272.9 L973,272.9 L974.2,273 L975.4,272.6 L976.6,272.5 L977.8,272.6 L979,272.4 L980.1,272.7 L981.3,273 L982.5,273.1 L983.7,273.1 L984.9,273.2 L986.1,273 L987.3,273.1 L988.5,273.2 L989.7,273.6 L990.9,273.7 L992.1,273.7 L993.3,273.8 L994.4,273.9 L995.6,273.8 L996.8,274.2 L998,274.1 L999.2,274.1 L1000.4,274.3 L1001.6,274.1 L1002.8,274.4 L1004,274 L1005.2,274 L1006.4,274.1 L1007.6,274.3 L1008.7,274 L1009.9,273.9 L1011.1,273.6 L1012.3,273.9 L1013.5,273.8 L1014.7,273.3 L1015.9,273.5 L1017.1,273.6 L1018.3,273.7 L1019.5,273.4 L1020.7,273.4 L1021.8,273.9" fill="none" stroke="#7396d0" stroke-width="1.8" stroke-linejoin="round"/>
<path d="M616.8,275.4 L618,275.1 L619.2,275.2 L620.3,275.5 L621.5,275.5 L622.7,275.3 L623.9,275.4 L625.1,275.8 L626.3,275.4 L627.5,275.3 L628.7,275.2 L629.9,275.1 L631.1,275 L632.3,275 L633.5,275.2 L634.6,275.3 L635.8,275 L637,274.8 L638.2,275.3 L639.4,275.6 L640.6,276.4 L641.8,276 L643,275.7 L644.2,276.1 L645.4,275.7 L646.6,275.6 L647.7,275.3 L648.9,274.7 L650.1,274.9 L651.3,274.6 L652.5,274.4 L653.7,274.5 L654.9,274.5 L656.1,274.2 L657.3,273.9 L658.5,274.3 L659.7,274.2 L660.9,274.3 L662,274 L663.2,274.5 L664.4,274.6 L665.6,275 L666.8,275.1 L668,274.8 L669.2,274.8 L670.4,274.5 L671.6,274.4 L672.8,274.7 L674,274.6 L675.2,274 L676.3,273.7 L677.5,273.4 L678.7,273.4 L679.9,273.5 L681.1,273.4 L682.3,273.6 L683.5,273.8 L684.7,273.3 L685.9,273.2 L687.1,273.4 L688.3,273.4 L689.4,273.6 L690.6,273.2 L691.8,273 L693,273.5 L694.2,272.9 L695.4,272.6 L696.6,272.8 L697.8,272.8 L699,272.9 L700.2,273.1 L701.4,273.2 L702.6,273.3 L703.7,273 L704.9,272.9 L706.1,273.4 L707.3,273.5 L708.5,273.5 L709.7,273.4 L710.9,273 L712.1,272.8 L713.3,272.4 L714.5,272.7 L715.7,272.8 L716.8,273.1 L718,272.9 L719.2,273 L720.4,272.9 L721.6,273 L722.8,273 L724,273.4 L725.2,273.6 L726.4,273.5 L727.6,273.5 L728.8,273.1 L730,273.2 L731.1,273.2 L732.3,273.4 L733.5,273.3 L734.7,273.3 L735.9,272.8 L737.1,272.7 L738.3,272.7 L739.5,272.9 L740.7,272.8 L741.9,272.9 L743.1,272.8 L744.3,273 L745.4,272.8 L746.6,272.9 L747.8,273.1 L749,273.1 L750.2,272.8 L751.4,272.6 L752.6,272.7 L753.8,272.4 L755,272.6 L756.2,272.4 L757.4,272.4 L758.5,272.5 L759.7,272.1 L760.9,271.8 L762.1,272 L763.3,272.1 L764.5,272.2 L765.7,271.8 L766.9,271.6 L768.1,271.3 L769.3,271.3 L770.5,271.3 L771.7,271.6 L772.8,271.9 L774,271.8 L775.2,271.8 L776.4,271.8 L777.6,272 L778.8,272.2 L780,272.3 L781.2,272.3 L782.4,272.3 L783.6,272.2 L784.8,272 L786,271.9 L787.1,271.3 L788.3,271.2 L789.5,271.5 L790.7,271.2 L791.9,270.9 L793.1,270.9 L794.3,270.9 L795.5,270.8 L796.7,270.8 L797.9,270.7 L799.1,270.8 L800.2,270.9 L801.4,270.5 L802.6,270.5 L803.8,270.2 L805,270.5 L806.2,270 L807.4,269.9 L808.6,270.1 L809.8,270.2 L811,270.5 L812.2,270.6 L813.4,270.6 L814.5,270.8 L815.7,270.8 L816.9,270.5 L818.1,270.6 L819.3,270.4 M821.1,271.2 L821.7,271 L822.9,271.3 L824.1,271.3 L825.3,271.3 L826.5,271.3 L827.6,271.3 L828.8,271.5 L830,271.9 L831.2,272 L832.4,272.1 L833.6,272.4 L834.8,272.2 L836,272.4 L837.2,272.8 L838.4,272.7 L839.6,273.2 L840.8,273.4 L841.9,273.5 L843.1,273.8 L844.3,273.9 L845.5,273.8 L846.7,274 L847.9,274.1 L849.1,274.1 L850.3,274.1 L851.5,274 L852.7,273.6 L853.9,273.5 L855.1,273.7 L856.2,273.9 L857.4,273.9 L858.6,274.1 L859.8,274.1 L861,274.5 L862.2,274.8 L863.4,274.8 L864.6,275.2 L865.8,275.2 L867,275 L868.2,275.1 L869.3,275.1 L870.5,274.7 L871.7,275 L872.9,275 L874.1,274.9 L875.3,275 L876.5,275 L877.7,275.1 L878.9,275.5 L880.1,275.6 L881.3,275.6 L882.5,276 L883.6,276.1 L884.8,276 L886,276 L887.2,276.2 L888.4,276.4 L889.6,276.4 L890.8,276.2 L892,276.3 L893.2,276.6 L894.4,276.6 L895.6,276.4 L896.8,276.2 L897.9,276.1 L899.1,276 L900.3,276 L901.5,276.2 L902.7,276.3 L903.9,275.9 L905.1,276 L906.3,276.3 L907.5,276 L908.7,276 L909.9,276.5 L911,276.6 L912.2,276.6 L913.4,276.5 L914.6,276.7 L915.8,277.2 L917,277.4 L918.2,277.3 L919.4,277.7 L920.6,277.9 L921.8,277.5 L923,277.5 L924.2,277.7 L925.3,277.9 L926.5,277.5 L927.7,277.7 L928.9,277.3 L930.1,277.3 L931.3,277 L932.5,276.9 L933.7,277.2 L934.9,277.1 L936.1,276.9 L937.3,277.1 L938.5,277.2 L939.6,276.9 L940.8,277 L942,276.7 L943.2,277.1 L944.4,277.4 L945.6,277.6 L946.8,277.8 L948,277.7 L949.2,277.3 L950.4,277.6 L951.6,277.6 L952.7,277.5 L953.9,278 L955.1,277.6 L956.3,277.5 L957.5,277.2 L958.7,277.2 L959.9,277.7 L961.1,278.2 L962.3,277.9 L963.5,278 L964.7,278.3 L965.9,278 L967,278.3 L968.2,278.4 L969.4,278.5 L970.6,278.9 L971.8,278.5 L973,278.4 L974.2,278.5 L975.4,278.1 L976.6,278.2 L977.8,278.3 L979,278.2 L980.1,278.4 L981.3,278.6 L982.5,278.1 L983.7,278.2 L984.9,278 L986.1,277.9 L987.3,278.1 L988.5,278 L989.7,278.1 L990.9,277.8 L992.1,277.6 L993.3,277.6 L994.4,277.9 L995.6,277.8 L996.8,278 L998,277.8 L999.2,278 L1000.4,277.9 L1001.6,278 L1002.8,278 L1004,278.4 L1005.2,278.5 L1006.4,278.3 L1007.6,278.3 L1008.7,278.6 L1009.9,278.9 L1011.1,278.9 L1012.3,279.2 L1013.5,279.4 L1014.7,279.7 L1015.9,279.2 L1017.1,279.1 L1018.3,279.2 L1019.5,279.2 L1020.7,279 L1021.8,278.9" fill="none" stroke="#eb8f8f" stroke-width="1.8" stroke-linejoin="round"/>
<path d="M812.2 75.6H818.5" stroke="#283045" stroke-width="2.6" fill="none" opacity="0.85" stroke-linecap="round"/>
<path d="M812.2 93.4H818.5" stroke="#283045" stroke-width="2.6" fill="none" opacity="0.85" stroke-linecap="round"/>
<path d="M812.2 116.1H818.5" stroke="#283045" stroke-width="2.6" fill="none" opacity="0.85" stroke-linecap="round"/>
<path d="M812.2 149.1H818.5" stroke="#283045" stroke-width="2.6" fill="none" opacity="0.85" stroke-linecap="round"/>
<path d="M812.2 206H818.5" stroke="#283045" stroke-width="2.6" fill="none" opacity="0.85" stroke-linecap="round"/>
<path d="M812.2 244.2H818.5" stroke="#283045" stroke-width="2.6" fill="none" opacity="0.85" stroke-linecap="round"/>
<path d="M812.2 270.3H818.5" stroke="#283045" stroke-width="2.6" fill="none" opacity="0.85" stroke-linecap="round"/>
<path d="M616.8,275.1 L617.4,275.1 L618,275.1 L618.6,275.1 L619.2,275.1 L619.8,275.1 L620.3,275.1 L620.9,275.1 L621.5,275.1 L622.1,275.1 L622.7,275.1 L623.3,275.1 L623.9,275.1 L624.5,275.1 L625.1,275.1 L625.7,275.1 L626.3,275.1 L626.9,275.1 L627.5,275.1 L628.1,275.1 L628.7,275.1 L629.3,275.1 L629.9,275.1 L630.5,275.1 L631.1,275.1 L631.7,275.1 L632.3,275.1 L632.9,275.1 L633.5,275.1 L634,275.1 L634.6,275.1 L635.2,275.1 L635.8,275.1 L636.4,275.1 L637,275.1 L637.6,275.1 L638.2,275.1 L638.8,275.1 L639.4,275.1 L640,275.1 L640.6,275.1 L641.2,238 L641.8,208.4 L642.4,184.7 L643,165.9 L643.6,150.8 L644.2,138.8 L644.8,129.1 L645.4,121.5 L646,115.3 L646.6,110.4 L647.2,106.5 L647.7,103.4 L648.3,100.9 L648.9,98.9 L649.5,97.3 L650.1,96.1 L650.7,95.1 L651.3,94.3 L651.9,93.6 L652.5,93.1 L653.1,92.7 L653.7,92.4 L654.3,92.1 L654.9,91.9 L655.5,91.7 L656.1,91.6 L656.7,91.5 L657.3,91.4 L657.9,91.3 L658.5,91.3 L659.1,91.2 L659.7,91.2 L660.3,91.2 L660.9,91.1 L661.4,91.1 L662,91.1 L662.6,91.1 L663.2,91.1 L663.8,91.1 L664.4,91.1 L665,91.1 L665.6,91.1 L666.2,91.1 L666.8,91.1 L667.4,91.1 L668,91.1 L668.6,91.1 L669.2,91.1 L669.8,91.1 L670.4,91.1 L671,91.1 L671.6,91.1 L672.2,91.1 L672.8,91.1 L673.4,91.1 L674,91.1 L674.6,91.1 L675.2,91.1 L675.7,91.1 L676.3,91.1 L676.9,91.1 L677.5,91.1 L678.1,91.1 L678.7,91.1 L679.3,91.1 L679.9,91.1 L680.5,91.1 L681.1,91.1 L681.7,91.1 L682.3,91.1 L682.9,91.1 L683.5,91.1 L684.1,91.1 L684.7,91.1 L685.3,91.1 L685.9,91.1 L686.5,91.1 L687.1,91.1 L687.7,91.1 L688.3,91.1 L688.9,91.1 L689.4,91.1 L690,91.1 L690.6,91.1 L691.2,91.1 L691.8,91.1 L692.4,91.1 L693,91.1 L693.6,91.1 L694.2,91.1 L694.8,91.1 L695.4,91.1 L696,91.1 L696.6,91.1 L697.2,91.1 L697.8,91.1 L698.4,91.1 L699,91.1 L699.6,91.1 L700.2,91.1 L700.8,91.1 L701.4,91.1 L702,91.1 L702.6,91.1 L703.1,91.1 L703.7,91.1 L704.3,91.1 L704.9,91.1 L705.5,91.1 L706.1,91.1 L706.7,91.1 L707.3,91.1 L707.9,91.1 L708.5,91.1 L709.1,91.1 L709.7,91.1 L710.3,91.1 L710.9,91.1 L711.5,91.1 L712.1,91.1 L712.7,91.1 L713.3,91.1 L713.9,91.1 L714.5,91.1 L715.1,91.1 L715.7,91.1 L716.3,91.1 L716.8,91.1 L717.4,91.1 L718,91.1 L718.6,91.1 L719.2,91.1 L719.8,91.1 L720.4,91.1 L721,91.1 L721.6,91.1 L722.2,91.1 L722.8,91.1 L723.4,91.1 L724,91.1 L724.6,91.1 L725.2,91.1 L725.8,91.1 L726.4,91.1 L727,91.1 L727.6,91.1 L728.2,91.1 L728.8,91.1 L729.4,91.1 L730,91.1 L730.6,91.1 L731.1,91.1 L731.7,91.1 L732.3,91.1 L732.9,91.1 L733.5,91.1 L734.1,91.1 L734.7,91.1 L735.3,91.1 L735.9,91.1 L736.5,91.1 L737.1,91.1 L737.7,91.1 L738.3,91.1 L738.9,91.1 L739.5,91.1 L740.1,91.1 L740.7,91.1 L741.3,91.1 L741.9,91.1 L742.5,91.1 L743.1,91.1 L743.7,91.1 L744.3,91.1 L744.8,91.1 L745.4,91.1 L746,91.1 L746.6,91.1 L747.2,91.1 L747.8,91.1 L748.4,91.1 L749,91.1 L749.6,91.1 L750.2,91.1 L750.8,91.1 L751.4,91.1 L752,91.1 L752.6,91.1 L753.2,91.1 L753.8,91.1 L754.4,91.1 L755,91.1 L755.6,91.1 L756.2,91.1 L756.8,91.1 L757.4,91.1 L758,91.1 L758.5,91.1 L759.1,91.1 L759.7,91.1 L760.3,91.1 L760.9,91.1 L761.5,91.1 L762.1,91.1 L762.7,91.1 L763.3,91.1 L763.9,91.1 L764.5,91.1 L765.1,91.1 L765.7,91.1 L766.3,91.1 L766.9,91.1 L767.5,91.1 L768.1,91.1 L768.7,91.1 L769.3,91.1 L769.9,91.1 L770.5,91.1 L771.1,91.1 L771.7,91.1 L772.2,91.1 L772.8,91.1 L773.4,91.1 L774,91.1 L774.6,91.1 L775.2,91.1 L775.8,91.1 L776.4,91.1 L777,91.1 L777.6,91.1 L778.2,91.1 L778.8,91.1 L779.4,91.1 L780,91.1 L780.6,91.1 L781.2,91.1 L781.8,91.1 L782.4,91.1 L783,91.1 L783.6,91.1 L784.2,91.1 L784.8,91.1 L785.4,91.1 L786,91.1 L786.5,91.1 L787.1,91.1 L787.7,91.1 L788.3,91.1 L788.9,91.1 L789.5,91.1 L790.1,91.1 L790.7,91.1 L791.3,91.1 L791.9,91.1 L792.5,91.1 L793.1,91.1 L793.7,91.1 L794.3,91.1 L794.9,91.1 L795.5,91.1 L796.1,91.1 L796.7,91.1 L797.3,91.1 L797.9,91.1 L798.5,91.1 L799.1,91.1 L799.7,91.1 L800.2,91.1 L800.8,91.1 L801.4,91.1 L802,91.1 L802.6,91.1 L803.2,91.1 L803.8,91.1 L804.4,91.1 L805,91.1 L805.6,91.1 L806.2,91.1 L806.8,91.1 L807.4,91.1 L808,91.1 L808.6,91.1 L809.2,91.1 L809.8,91.1 L810.4,91.1 L811,91.1 L811.6,91.1 L812.2,91.1 L812.8,91.1 L813.4,91.1 L813.9,91.1 L814.5,91.1 L815.1,91.1 L815.7,91.1 L816.3,91.1 L816.9,91.1 L817.5,91.1 L818.1,91.1 L818.7,91.1 L819.3,91.1 L819.9,94 L820.5,96.8 L821.1,99.7 L821.7,102.5 L822.3,105.2 L822.9,107.9 L823.5,110.5 L824.1,113.2 L824.7,115.7 L825.3,118.3 L825.9,120.7 L826.5,123.2 L827.1,125.6 L827.6,128 L828.2,130.3 L828.8,132.6 L829.4,134.9 L830,137.1 L830.6,139.3 L831.2,141.4 L831.8,143.6 L832.4,145.6 L833,147.7 L833.6,149.7 L834.2,151.7 L834.8,153.7 L835.4,155.6 L836,157.5 L836.6,159.4 L837.2,161.2 L837.8,163 L838.4,164.8 L839,166.5 L839.6,168.3 L840.2,169.9 L840.8,171.6 L841.4,173.3 L841.9,174.9 L842.5,176.5 L843.1,178 L843.7,179.6 L844.3,181.1 L844.9,182.6 L845.5,184 L846.1,185.5 L846.7,186.9 L847.3,188.3 L847.9,189.7 L848.5,191 L849.1,192.4 L849.7,193.7 L850.3,195 L850.9,196.2 L851.5,197.5 L852.1,198.7 L852.7,199.9 L853.3,201.1 L853.9,202.3 L854.5,203.5 L855.1,204.6 L855.6,205.7 L856.2,206.8 L856.8,207.9 L857.4,209 L858,210 L858.6,211 L859.2,212.1 L859.8,213.1 L860.4,214 L861,215 L861.6,216 L862.2,216.9 L862.8,217.8 L863.4,218.7 L864,219.6 L864.6,220.5 L865.2,221.4 L865.8,222.2 L866.4,223.1 L867,223.9 L867.6,224.7 L868.2,225.5 L868.8,226.3 L869.3,227.1 L869.9,227.8 L870.5,228.6 L871.1,229.3 L871.7,230 L872.3,230.8 L872.9,231.5 L873.5,232.1 L874.1,232.8 L874.7,233.5 L875.3,234.2 L875.9,234.8 L876.5,235.4 L877.1,236.1 L877.7,236.7 L878.3,237.3 L878.9,237.9 L879.5,238.5 L880.1,239.1 L880.7,239.6 L881.3,240.2 L881.9,240.8 L882.5,241.3 L883,241.8 L883.6,242.4 L884.2,242.9 L884.8,243.4 L885.4,243.9 L886,244.4 L886.6,244.9 L887.2,245.4 L887.8,245.8 L888.4,246.3 L889,246.7 L889.6,247.2 L890.2,247.6 L890.8,248.1 L891.4,248.5 L892,248.9 L892.6,249.3 L893.2,249.7 L893.8,250.1 L894.4,250.5 L895,250.9 L895.6,251.3 L896.2,251.7 L896.8,252.1 L897.3,252.4 L897.9,252.8 L898.5,253.1 L899.1,253.5 L899.7,253.8 L900.3,254.2 L900.9,254.5 L901.5,254.8 L902.1,255.1 L902.7,255.5 L903.3,255.8 L903.9,256.1 L904.5,256.4 L905.1,256.7 L905.7,257 L906.3,257.3 L906.9,257.5 L907.5,257.8 L908.1,258.1 L908.7,258.4 L909.3,258.6 L909.9,258.9 L910.5,259.1 L911,259.4 L911.6,259.6 L912.2,259.9 L912.8,260.1 L913.4,260.4 L914,260.6 L914.6,260.8 L915.2,261.1 L915.8,261.3 L916.4,261.5 L917,261.7 L917.6,261.9 L918.2,262.1 L918.8,262.3 L919.4,262.5 L920,262.7 L920.6,262.9 L921.2,263.1 L921.8,263.3 L922.4,263.5 L923,263.7 L923.6,263.9 L924.2,264 L924.7,264.2 L925.3,264.4 L925.9,264.6 L926.5,264.7 L927.1,264.9 L927.7,265 L928.3,265.2 L928.9,265.4 L929.5,265.5 L930.1,265.7 L930.7,265.8 L931.3,266 L931.9,266.1 L932.5,266.2 L933.1,266.4 L933.7,266.5 L934.3,266.7 L934.9,266.8 L935.5,266.9 L936.1,267.1 L936.7,267.2 L937.3,267.3 L937.9,267.4 L938.5,267.5 L939,267.7 L939.6,267.8 L940.2,267.9 L940.8,268 L941.4,268.1 L942,268.2 L942.6,268.3 L943.2,268.5 L943.8,268.6 L944.4,268.7 L945,268.8 L945.6,268.9 L946.2,269 L946.8,269.1 L947.4,269.2 L948,269.2 L948.6,269.3 L949.2,269.4 L949.8,269.5 L950.4,269.6 L951,269.7 L951.6,269.8 L952.2,269.9 L952.7,269.9 L953.3,270 L953.9,270.1 L954.5,270.2 L955.1,270.3 L955.7,270.3 L956.3,270.4 L956.9,270.5 L957.5,270.6 L958.1,270.6 L958.7,270.7 L959.3,270.8 L959.9,270.8 L960.5,270.9 L961.1,271 L961.7,271 L962.3,271.1 L962.9,271.2 L963.5,271.2 L964.1,271.3 L964.7,271.3 L965.3,271.4 L965.9,271.5 L966.4,271.5 L967,271.6 L967.6,271.6 L968.2,271.7 L968.8,271.7 L969.4,271.8 L970,271.8 L970.6,271.9 L971.2,271.9 L971.8,272 L972.4,272 L973,272.1 L973.6,272.1 L974.2,272.2 L974.8,272.2 L975.4,272.3 L976,272.3 L976.6,272.4 L977.2,272.4 L977.8,272.4 L978.4,272.5 L979,272.5 L979.6,272.6 L980.1,272.6 L980.7,272.6 L981.3,272.7 L981.9,272.7 L982.5,272.8 L983.1,272.8 L983.7,272.8 L984.3,272.9 L984.9,272.9 L985.5,272.9 L986.1,273 L986.7,273 L987.3,273 L987.9,273.1 L988.5,273.1 L989.1,273.1 L989.7,273.2 L990.3,273.2 L990.9,273.2 L991.5,273.2 L992.1,273.3 L992.7,273.3 L993.3,273.3 L993.9,273.4 L994.4,273.4 L995,273.4 L995.6,273.4 L996.2,273.5 L996.8,273.5 L997.4,273.5 L998,273.5 L998.6,273.6 L999.2,273.6 L999.8,273.6 L1000.4,273.6 L1001,273.7 L1001.6,273.7 L1002.2,273.7 L1002.8,273.7 L1003.4,273.7 L1004,273.8 L1004.6,273.8 L1005.2,273.8 L1005.8,273.8 L1006.4,273.8 L1007,273.9 L1007.6,273.9 L1008.1,273.9 L1008.7,273.9 L1009.3,273.9 L1009.9,274 L1010.5,274 L1011.1,274 L1011.7,274 L1012.3,274 L1012.9,274 L1013.5,274.1 L1014.1,274.1 L1014.7,274.1 L1015.3,274.1 L1015.9,274.1 L1016.5,274.1 L1017.1,274.1 L1017.7,274.2 L1018.3,274.2 L1018.9,274.2 L1019.5,274.2 L1020.1,274.2 L1020.7,274.2 L1021.3,274.2 L1021.8,274.3" fill="none" stroke="#3f3f3a" stroke-width="1.8" stroke-linejoin="round"/>
<path d="M616.8,275.1 L617.4,275.1 L618,275.1 L618.6,275.1 L619.2,275.1 L619.8,275.1 L620.3,275.1 L620.9,275.1 L621.5,275.1 L622.1,275.1 L622.7,275.1 L623.3,275.1 L623.9,275.1 L624.5,275.1 L625.1,275.1 L625.7,275.1 L626.3,275.1 L626.9,275.1 L627.5,275.1 L628.1,275.1 L628.7,275.1 L629.3,275.1 L629.9,275.1 L630.5,275.1 L631.1,275.1 L631.7,275.1 L632.3,275.1 L632.9,275.1 L633.5,275.1 L634,275.1 L634.6,275.1 L635.2,275.1 L635.8,275.1 L636.4,275.1 L637,275.1 L637.6,275.1 L638.2,275.1 L638.8,275.1 L639.4,275.1 L640,275.1 L640.6,275.1 L641.2,275.1 L641.8,268.4 L642.4,252.9 L643,238.9 L643.6,226.3 L644.2,215 L644.8,204.8 L645.4,195.6 L646,187.3 L646.6,179.9 L647.2,173.2 L647.7,167.2 L648.3,161.7 L648.9,156.9 L649.5,152.5 L650.1,148.5 L650.7,144.9 L651.3,141.7 L651.9,138.8 L652.5,136.2 L653.1,133.9 L653.7,131.8 L654.3,129.9 L654.9,128.2 L655.5,126.6 L656.1,125.2 L656.7,124 L657.3,122.9 L657.9,121.8 L658.5,120.9 L659.1,120.1 L659.7,119.4 L660.3,118.7 L660.9,118.1 L661.4,117.6 L662,117.1 L662.6,116.7 L663.2,116.3 L663.8,115.9 L664.4,115.6 L665,115.3 L665.6,115 L666.2,114.8 L666.8,114.6 L667.4,114.4 L668,114.2 L668.6,114.1 L669.2,113.9 L669.8,113.8 L670.4,113.7 L671,113.6 L671.6,113.5 L672.2,113.4 L672.8,113.4 L673.4,113.3 L674,113.2 L674.6,113.2 L675.2,113.1 L675.7,113.1 L676.3,113.1 L676.9,113 L677.5,113 L678.1,113 L678.7,112.9 L679.3,112.9 L679.9,112.9 L680.5,112.9 L681.1,112.9 L681.7,112.8 L682.3,112.8 L682.9,112.8 L683.5,112.8 L684.1,112.8 L684.7,112.8 L685.3,112.8 L685.9,112.8 L686.5,112.8 L687.1,112.8 L687.7,112.8 L688.3,112.7 L688.9,112.7 L689.4,112.7 L690,112.7 L690.6,112.7 L691.2,112.7 L691.8,112.7 L692.4,112.7 L693,112.7 L693.6,112.7 L694.2,112.7 L694.8,112.7 L695.4,112.7 L696,112.7 L696.6,112.7 L697.2,112.7 L697.8,112.7 L698.4,112.7 L699,112.7 L699.6,112.7 L700.2,112.7 L700.8,112.7 L701.4,112.7 L702,112.7 L702.6,112.7 L703.1,112.7 L703.7,112.7 L704.3,112.7 L704.9,112.7 L705.5,112.7 L706.1,112.7 L706.7,112.7 L707.3,112.7 L707.9,112.7 L708.5,112.7 L709.1,112.7 L709.7,112.7 L710.3,112.7 L710.9,112.7 L711.5,112.7 L712.1,112.7 L712.7,112.7 L713.3,112.7 L713.9,112.7 L714.5,112.7 L715.1,112.7 L715.7,112.7 L716.3,112.7 L716.8,112.7 L717.4,112.7 L718,112.7 L718.6,112.7 L719.2,112.7 L719.8,112.7 L720.4,112.7 L721,112.7 L721.6,112.7 L722.2,112.7 L722.8,112.7 L723.4,112.7 L724,112.7 L724.6,112.7 L725.2,112.7 L725.8,112.7 L726.4,112.7 L727,112.7 L727.6,112.7 L728.2,112.7 L728.8,112.7 L729.4,112.7 L730,112.7 L730.6,112.7 L731.1,112.7 L731.7,112.7 L732.3,112.7 L732.9,112.7 L733.5,112.7 L734.1,112.7 L734.7,112.7 L735.3,112.7 L735.9,112.7 L736.5,112.7 L737.1,112.7 L737.7,112.7 L738.3,112.7 L738.9,112.7 L739.5,112.7 L740.1,112.7 L740.7,112.7 L741.3,112.7 L741.9,112.7 L742.5,112.7 L743.1,112.7 L743.7,112.7 L744.3,112.7 L744.8,112.7 L745.4,112.7 L746,112.7 L746.6,112.7 L747.2,112.7 L747.8,112.7 L748.4,112.7 L749,112.7 L749.6,112.7 L750.2,112.7 L750.8,112.7 L751.4,112.7 L752,112.7 L752.6,112.7 L753.2,112.7 L753.8,112.7 L754.4,112.7 L755,112.7 L755.6,112.7 L756.2,112.7 L756.8,112.7 L757.4,112.7 L758,112.7 L758.5,112.7 L759.1,112.7 L759.7,112.7 L760.3,112.7 L760.9,112.7 L761.5,112.7 L762.1,112.7 L762.7,112.7 L763.3,112.7 L763.9,112.7 L764.5,112.7 L765.1,112.7 L765.7,112.7 L766.3,112.7 L766.9,112.7 L767.5,112.7 L768.1,112.7 L768.7,112.7 L769.3,112.7 L769.9,112.7 L770.5,112.7 L771.1,112.7 L771.7,112.7 L772.2,112.7 L772.8,112.7 L773.4,112.7 L774,112.7 L774.6,112.7 L775.2,112.7 L775.8,112.7 L776.4,112.7 L777,112.7 L777.6,112.7 L778.2,112.7 L778.8,112.7 L779.4,112.7 L780,112.7 L780.6,112.7 L781.2,112.7 L781.8,112.7 L782.4,112.7 L783,112.7 L783.6,112.7 L784.2,112.7 L784.8,112.7 L785.4,112.7 L786,112.7 L786.5,112.7 L787.1,112.7 L787.7,112.7 L788.3,112.7 L788.9,112.7 L789.5,112.7 L790.1,112.7 L790.7,112.7 L791.3,112.7 L791.9,112.7 L792.5,112.7 L793.1,112.7 L793.7,112.7 L794.3,112.7 L794.9,112.7 L795.5,112.7 L796.1,112.7 L796.7,112.7 L797.3,112.7 L797.9,112.7 L798.5,112.7 L799.1,112.7 L799.7,112.7 L800.2,112.7 L800.8,112.7 L801.4,112.7 L802,112.7 L802.6,112.7 L803.2,112.7 L803.8,112.7 L804.4,112.7 L805,112.7 L805.6,112.7 L806.2,112.7 L806.8,112.7 L807.4,112.7 L808,112.7 L808.6,112.7 L809.2,112.7 L809.8,112.7 L810.4,112.7 L811,112.7 L811.6,112.7 L812.2,112.7 L812.8,112.7 L813.4,112.7 L813.9,112.7 L814.5,112.7 L815.1,112.7 L815.7,112.7 L816.3,112.7 L816.9,112.7 L817.5,112.7 L818.1,112.7 L818.7,112.7 L819.3,112.7 L819.9,115.3 L820.5,117.8 L821.1,120.3 L821.7,122.8 L822.3,125.2 L822.9,127.6 L823.5,129.9 L824.1,132.2 L824.7,134.5 L825.3,136.7 L825.9,138.9 L826.5,141.1 L827.1,143.2 L827.6,145.3 L828.2,147.3 L828.8,149.4 L829.4,151.4 L830,153.3 L830.6,155.3 L831.2,157.2 L831.8,159 L832.4,160.9 L833,162.7 L833.6,164.5 L834.2,166.2 L834.8,168 L835.4,169.7 L836,171.3 L836.6,173 L837.2,174.6 L837.8,176.2 L838.4,177.8 L839,179.3 L839.6,180.8 L840.2,182.3 L840.8,183.8 L841.4,185.2 L841.9,186.7 L842.5,188.1 L843.1,189.4 L843.7,190.8 L844.3,192.1 L844.9,193.5 L845.5,194.8 L846.1,196 L846.7,197.3 L847.3,198.5 L847.9,199.7 L848.5,200.9 L849.1,202.1 L849.7,203.3 L850.3,204.4 L850.9,205.5 L851.5,206.6 L852.1,207.7 L852.7,208.8 L853.3,209.8 L853.9,210.9 L854.5,211.9 L855.1,212.9 L855.6,213.9 L856.2,214.8 L856.8,215.8 L857.4,216.7 L858,217.7 L858.6,218.6 L859.2,219.5 L859.8,220.4 L860.4,221.2 L861,222.1 L861.6,222.9 L862.2,223.7 L862.8,224.6 L863.4,225.4 L864,226.2 L864.6,226.9 L865.2,227.7 L865.8,228.4 L866.4,229.2 L867,229.9 L867.6,230.6 L868.2,231.3 L868.8,232 L869.3,232.7 L869.9,233.4 L870.5,234 L871.1,234.7 L871.7,235.3 L872.3,236 L872.9,236.6 L873.5,237.2 L874.1,237.8 L874.7,238.4 L875.3,239 L875.9,239.5 L876.5,240.1 L877.1,240.7 L877.7,241.2 L878.3,241.7 L878.9,242.3 L879.5,242.8 L880.1,243.3 L880.7,243.8 L881.3,244.3 L881.9,244.8 L882.5,245.3 L883,245.7 L883.6,246.2 L884.2,246.7 L884.8,247.1 L885.4,247.6 L886,248 L886.6,248.4 L887.2,248.9 L887.8,249.3 L888.4,249.7 L889,250.1 L889.6,250.5 L890.2,250.9 L890.8,251.2 L891.4,251.6 L892,252 L892.6,252.4 L893.2,252.7 L893.8,253.1 L894.4,253.4 L895,253.8 L895.6,254.1 L896.2,254.4 L896.8,254.8 L897.3,255.1 L897.9,255.4 L898.5,255.7 L899.1,256 L899.7,256.3 L900.3,256.6 L900.9,256.9 L901.5,257.2 L902.1,257.5 L902.7,257.8 L903.3,258 L903.9,258.3 L904.5,258.6 L905.1,258.8 L905.7,259.1 L906.3,259.3 L906.9,259.6 L907.5,259.8 L908.1,260.1 L908.7,260.3 L909.3,260.6 L909.9,260.8 L910.5,261 L911,261.2 L911.6,261.5 L912.2,261.7 L912.8,261.9 L913.4,262.1 L914,262.3 L914.6,262.5 L915.2,262.7 L915.8,262.9 L916.4,263.1 L917,263.3 L917.6,263.5 L918.2,263.6 L918.8,263.8 L919.4,264 L920,264.2 L920.6,264.4 L921.2,264.5 L921.8,264.7 L922.4,264.9 L923,265 L923.6,265.2 L924.2,265.3 L924.7,265.5 L925.3,265.6 L925.9,265.8 L926.5,265.9 L927.1,266.1 L927.7,266.2 L928.3,266.4 L928.9,266.5 L929.5,266.6 L930.1,266.8 L930.7,266.9 L931.3,267 L931.9,267.2 L932.5,267.3 L933.1,267.4 L933.7,267.5 L934.3,267.6 L934.9,267.8 L935.5,267.9 L936.1,268 L936.7,268.1 L937.3,268.2 L937.9,268.3 L938.5,268.4 L939,268.5 L939.6,268.6 L940.2,268.7 L940.8,268.8 L941.4,268.9 L942,269 L942.6,269.1 L943.2,269.2 L943.8,269.3 L944.4,269.4 L945,269.5 L945.6,269.6 L946.2,269.7 L946.8,269.8 L947.4,269.8 L948,269.9 L948.6,270 L949.2,270.1 L949.8,270.2 L950.4,270.2 L951,270.3 L951.6,270.4 L952.2,270.5 L952.7,270.5 L953.3,270.6 L953.9,270.7 L954.5,270.8 L955.1,270.8 L955.7,270.9 L956.3,271 L956.9,271 L957.5,271.1 L958.1,271.1 L958.7,271.2 L959.3,271.3 L959.9,271.3 L960.5,271.4 L961.1,271.4 L961.7,271.5 L962.3,271.6 L962.9,271.6 L963.5,271.7 L964.1,271.7 L964.7,271.8 L965.3,271.8 L965.9,271.9 L966.4,271.9 L967,272 L967.6,272 L968.2,272.1 L968.8,272.1 L969.4,272.2 L970,272.2 L970.6,272.3 L971.2,272.3 L971.8,272.3 L972.4,272.4 L973,272.4 L973.6,272.5 L974.2,272.5 L974.8,272.6 L975.4,272.6 L976,272.6 L976.6,272.7 L977.2,272.7 L977.8,272.7 L978.4,272.8 L979,272.8 L979.6,272.9 L980.1,272.9 L980.7,272.9 L981.3,273 L981.9,273 L982.5,273 L983.1,273.1 L983.7,273.1 L984.3,273.1 L984.9,273.2 L985.5,273.2 L986.1,273.2 L986.7,273.2 L987.3,273.3 L987.9,273.3 L988.5,273.3 L989.1,273.4 L989.7,273.4 L990.3,273.4 L990.9,273.4 L991.5,273.5 L992.1,273.5 L992.7,273.5 L993.3,273.5 L993.9,273.6 L994.4,273.6 L995,273.6 L995.6,273.6 L996.2,273.6 L996.8,273.7 L997.4,273.7 L998,273.7 L998.6,273.7 L999.2,273.8 L999.8,273.8 L1000.4,273.8 L1001,273.8 L1001.6,273.8 L1002.2,273.9 L1002.8,273.9 L1003.4,273.9 L1004,273.9 L1004.6,273.9 L1005.2,273.9 L1005.8,274 L1006.4,274 L1007,274 L1007.6,274 L1008.1,274 L1008.7,274 L1009.3,274.1 L1009.9,274.1 L1010.5,274.1 L1011.1,274.1 L1011.7,274.1 L1012.3,274.1 L1012.9,274.2 L1013.5,274.2 L1014.1,274.2 L1014.7,274.2 L1015.3,274.2 L1015.9,274.2 L1016.5,274.2 L1017.1,274.2 L1017.7,274.3 L1018.3,274.3 L1018.9,274.3 L1019.5,274.3 L1020.1,274.3 L1020.7,274.3 L1021.3,274.3 L1021.8,274.3" fill="none" stroke="#4a4a4e" stroke-width="1.8" stroke-linejoin="round"/>
<path d="M616.8,275.1 L617.4,275.1 L618,275.1 L618.6,275.1 L619.2,275.1 L619.8,275.1 L620.3,275.1 L620.9,275.1 L621.5,275.1 L622.1,275.1 L622.7,275.1 L623.3,275.1 L623.9,275.1 L624.5,275.1 L625.1,275.1 L625.7,275.1 L626.3,275.1 L626.9,275.1 L627.5,275.1 L628.1,275.1 L628.7,275.1 L629.3,275.1 L629.9,275.1 L630.5,275.1 L631.1,275.1 L631.7,275.1 L632.3,275.1 L632.9,275.1 L633.5,275.1 L634,275.1 L634.6,275.1 L635.2,275.1 L635.8,275.1 L636.4,275.1 L637,275.1 L637.6,275.1 L638.2,275.1 L638.8,275.1 L639.4,275.1 L640,275.1 L640.6,275.1 L641.2,269.7 L641.8,264.7 L642.4,259.8 L643,255.2 L643.6,250.7 L644.2,246.5 L644.8,242.5 L645.4,238.6 L646,234.9 L646.6,231.3 L647.2,228 L647.7,224.7 L648.3,221.6 L648.9,218.7 L649.5,215.8 L650.1,213.1 L650.7,210.6 L651.3,208.1 L651.9,205.7 L652.5,203.5 L653.1,201.3 L653.7,199.2 L654.3,197.3 L654.9,195.4 L655.5,193.6 L656.1,191.9 L656.7,190.2 L657.3,188.6 L657.9,187.1 L658.5,185.7 L659.1,184.3 L659.7,183 L660.3,181.7 L660.9,180.5 L661.4,179.4 L662,178.3 L662.6,177.2 L663.2,176.2 L663.8,175.3 L664.4,174.4 L665,173.5 L665.6,172.6 L666.2,171.8 L666.8,171.1 L667.4,170.3 L668,169.6 L668.6,169 L669.2,168.3 L669.8,167.7 L670.4,167.1 L671,166.6 L671.6,166 L672.2,165.5 L672.8,165 L673.4,164.6 L674,164.1 L674.6,163.7 L675.2,163.3 L675.7,162.9 L676.3,162.5 L676.9,162.2 L677.5,161.8 L678.1,161.5 L678.7,161.2 L679.3,160.9 L679.9,160.6 L680.5,160.3 L681.1,160.1 L681.7,159.8 L682.3,159.6 L682.9,159.4 L683.5,159.2 L684.1,158.9 L684.7,158.7 L685.3,158.6 L685.9,158.4 L686.5,158.2 L687.1,158 L687.7,157.9 L688.3,157.7 L688.9,157.6 L689.4,157.4 L690,157.3 L690.6,157.2 L691.2,157.1 L691.8,156.9 L692.4,156.8 L693,156.7 L693.6,156.6 L694.2,156.5 L694.8,156.4 L695.4,156.3 L696,156.3 L696.6,156.2 L697.2,156.1 L697.8,156 L698.4,156 L699,155.9 L699.6,155.8 L700.2,155.8 L700.8,155.7 L701.4,155.7 L702,155.6 L702.6,155.5 L703.1,155.5 L703.7,155.4 L704.3,155.4 L704.9,155.4 L705.5,155.3 L706.1,155.3 L706.7,155.2 L707.3,155.2 L707.9,155.2 L708.5,155.1 L709.1,155.1 L709.7,155.1 L710.3,155 L710.9,155 L711.5,155 L712.1,155 L712.7,154.9 L713.3,154.9 L713.9,154.9 L714.5,154.9 L715.1,154.9 L715.7,154.8 L716.3,154.8 L716.8,154.8 L717.4,154.8 L718,154.8 L718.6,154.8 L719.2,154.7 L719.8,154.7 L720.4,154.7 L721,154.7 L721.6,154.7 L722.2,154.7 L722.8,154.7 L723.4,154.7 L724,154.6 L724.6,154.6 L725.2,154.6 L725.8,154.6 L726.4,154.6 L727,154.6 L727.6,154.6 L728.2,154.6 L728.8,154.6 L729.4,154.6 L730,154.6 L730.6,154.6 L731.1,154.6 L731.7,154.5 L732.3,154.5 L732.9,154.5 L733.5,154.5 L734.1,154.5 L734.7,154.5 L735.3,154.5 L735.9,154.5 L736.5,154.5 L737.1,154.5 L737.7,154.5 L738.3,154.5 L738.9,154.5 L739.5,154.5 L740.1,154.5 L740.7,154.5 L741.3,154.5 L741.9,154.5 L742.5,154.5 L743.1,154.5 L743.7,154.5 L744.3,154.5 L744.8,154.5 L745.4,154.5 L746,154.5 L746.6,154.5 L747.2,154.5 L747.8,154.5 L748.4,154.5 L749,154.5 L749.6,154.5 L750.2,154.5 L750.8,154.5 L751.4,154.5 L752,154.5 L752.6,154.5 L753.2,154.5 L753.8,154.4 L754.4,154.4 L755,154.4 L755.6,154.4 L756.2,154.4 L756.8,154.4 L757.4,154.4 L758,154.4 L758.5,154.4 L759.1,154.4 L759.7,154.4 L760.3,154.4 L760.9,154.4 L761.5,154.4 L762.1,154.4 L762.7,154.4 L763.3,154.4 L763.9,154.4 L764.5,154.4 L765.1,154.4 L765.7,154.4 L766.3,154.4 L766.9,154.4 L767.5,154.4 L768.1,154.4 L768.7,154.4 L769.3,154.4 L769.9,154.4 L770.5,154.4 L771.1,154.4 L771.7,154.4 L772.2,154.4 L772.8,154.4 L773.4,154.4 L774,154.4 L774.6,154.4 L775.2,154.4 L775.8,154.4 L776.4,154.4 L777,154.4 L777.6,154.4 L778.2,154.4 L778.8,154.4 L779.4,154.4 L780,154.4 L780.6,154.4 L781.2,154.4 L781.8,154.4 L782.4,154.4 L783,154.4 L783.6,154.4 L784.2,154.4 L784.8,154.4 L785.4,154.4 L786,154.4 L786.5,154.4 L787.1,154.4 L787.7,154.4 L788.3,154.4 L788.9,154.4 L789.5,154.4 L790.1,154.4 L790.7,154.4 L791.3,154.4 L791.9,154.4 L792.5,154.4 L793.1,154.4 L793.7,154.4 L794.3,154.4 L794.9,154.4 L795.5,154.4 L796.1,154.4 L796.7,154.4 L797.3,154.4 L797.9,154.4 L798.5,154.4 L799.1,154.4 L799.7,154.4 L800.2,154.4 L800.8,154.4 L801.4,154.4 L802,154.4 L802.6,154.4 L803.2,154.4 L803.8,154.4 L804.4,154.4 L805,154.4 L805.6,154.4 L806.2,154.4 L806.8,154.4 L807.4,154.4 L808,154.4 L808.6,154.4 L809.2,154.4 L809.8,154.4 L810.4,154.4 L811,154.4 L811.6,154.4 L812.2,154.4 L812.8,154.4 L813.4,154.4 L813.9,154.4 L814.5,154.4 L815.1,154.4 L815.7,154.4 L816.3,154.4 L816.9,154.4 L817.5,154.4 L818.1,154.4 L818.7,154.4 L819.3,154.4 L819.9,156.3 L820.5,158.2 L821.1,160.1 L821.7,161.9 L822.3,163.7 L822.9,165.5 L823.5,167.2 L824.1,168.9 L824.7,170.6 L825.3,172.3 L825.9,173.9 L826.5,175.5 L827.1,177.1 L827.6,178.6 L828.2,180.2 L828.8,181.7 L829.4,183.2 L830,184.6 L830.6,186 L831.2,187.5 L831.8,188.8 L832.4,190.2 L833,191.6 L833.6,192.9 L834.2,194.2 L834.8,195.5 L835.4,196.7 L836,198 L836.6,199.2 L837.2,200.4 L837.8,201.6 L838.4,202.8 L839,203.9 L839.6,205 L840.2,206.1 L840.8,207.2 L841.4,208.3 L841.9,209.4 L842.5,210.4 L843.1,211.4 L843.7,212.5 L844.3,213.4 L844.9,214.4 L845.5,215.4 L846.1,216.3 L846.7,217.3 L847.3,218.2 L847.9,219.1 L848.5,220 L849.1,220.9 L849.7,221.7 L850.3,222.6 L850.9,223.4 L851.5,224.2 L852.1,225 L852.7,225.8 L853.3,226.6 L853.9,227.4 L854.5,228.1 L855.1,228.9 L855.6,229.6 L856.2,230.3 L856.8,231 L857.4,231.7 L858,232.4 L858.6,233.1 L859.2,233.8 L859.8,234.4 L860.4,235.1 L861,235.7 L861.6,236.3 L862.2,236.9 L862.8,237.5 L863.4,238.1 L864,238.7 L864.6,239.3 L865.2,239.9 L865.8,240.4 L866.4,241 L867,241.5 L867.6,242 L868.2,242.6 L868.8,243.1 L869.3,243.6 L869.9,244.1 L870.5,244.6 L871.1,245.1 L871.7,245.5 L872.3,246 L872.9,246.5 L873.5,246.9 L874.1,247.4 L874.7,247.8 L875.3,248.2 L875.9,248.7 L876.5,249.1 L877.1,249.5 L877.7,249.9 L878.3,250.3 L878.9,250.7 L879.5,251.1 L880.1,251.5 L880.7,251.8 L881.3,252.2 L881.9,252.6 L882.5,252.9 L883,253.3 L883.6,253.6 L884.2,254 L884.8,254.3 L885.4,254.6 L886,255 L886.6,255.3 L887.2,255.6 L887.8,255.9 L888.4,256.2 L889,256.5 L889.6,256.8 L890.2,257.1 L890.8,257.4 L891.4,257.6 L892,257.9 L892.6,258.2 L893.2,258.5 L893.8,258.7 L894.4,259 L895,259.2 L895.6,259.5 L896.2,259.7 L896.8,260 L897.3,260.2 L897.9,260.5 L898.5,260.7 L899.1,260.9 L899.7,261.1 L900.3,261.4 L900.9,261.6 L901.5,261.8 L902.1,262 L902.7,262.2 L903.3,262.4 L903.9,262.6 L904.5,262.8 L905.1,263 L905.7,263.2 L906.3,263.4 L906.9,263.6 L907.5,263.8 L908.1,263.9 L908.7,264.1 L909.3,264.3 L909.9,264.5 L910.5,264.6 L911,264.8 L911.6,264.9 L912.2,265.1 L912.8,265.3 L913.4,265.4 L914,265.6 L914.6,265.7 L915.2,265.9 L915.8,266 L916.4,266.2 L917,266.3 L917.6,266.4 L918.2,266.6 L918.8,266.7 L919.4,266.8 L920,267 L920.6,267.1 L921.2,267.2 L921.8,267.4 L922.4,267.5 L923,267.6 L923.6,267.7 L924.2,267.8 L924.7,267.9 L925.3,268.1 L925.9,268.2 L926.5,268.3 L927.1,268.4 L927.7,268.5 L928.3,268.6 L928.9,268.7 L929.5,268.8 L930.1,268.9 L930.7,269 L931.3,269.1 L931.9,269.2 L932.5,269.3 L933.1,269.4 L933.7,269.5 L934.3,269.6 L934.9,269.6 L935.5,269.7 L936.1,269.8 L936.7,269.9 L937.3,270 L937.9,270.1 L938.5,270.1 L939,270.2 L939.6,270.3 L940.2,270.4 L940.8,270.4 L941.4,270.5 L942,270.6 L942.6,270.7 L943.2,270.7 L943.8,270.8 L944.4,270.9 L945,270.9 L945.6,271 L946.2,271.1 L946.8,271.1 L947.4,271.2 L948,271.2 L948.6,271.3 L949.2,271.4 L949.8,271.4 L950.4,271.5 L951,271.5 L951.6,271.6 L952.2,271.6 L952.7,271.7 L953.3,271.8 L953.9,271.8 L954.5,271.9 L955.1,271.9 L955.7,272 L956.3,272 L956.9,272.1 L957.5,272.1 L958.1,272.2 L958.7,272.2 L959.3,272.2 L959.9,272.3 L960.5,272.3 L961.1,272.4 L961.7,272.4 L962.3,272.5 L962.9,272.5 L963.5,272.5 L964.1,272.6 L964.7,272.6 L965.3,272.7 L965.9,272.7 L966.4,272.7 L967,272.8 L967.6,272.8 L968.2,272.8 L968.8,272.9 L969.4,272.9 L970,272.9 L970.6,273 L971.2,273 L971.8,273 L972.4,273.1 L973,273.1 L973.6,273.1 L974.2,273.2 L974.8,273.2 L975.4,273.2 L976,273.3 L976.6,273.3 L977.2,273.3 L977.8,273.3 L978.4,273.4 L979,273.4 L979.6,273.4 L980.1,273.4 L980.7,273.5 L981.3,273.5 L981.9,273.5 L982.5,273.5 L983.1,273.6 L983.7,273.6 L984.3,273.6 L984.9,273.6 L985.5,273.7 L986.1,273.7 L986.7,273.7 L987.3,273.7 L987.9,273.7 L988.5,273.8 L989.1,273.8 L989.7,273.8 L990.3,273.8 L990.9,273.8 L991.5,273.9 L992.1,273.9 L992.7,273.9 L993.3,273.9 L993.9,273.9 L994.4,274 L995,274 L995.6,274 L996.2,274 L996.8,274 L997.4,274 L998,274.1 L998.6,274.1 L999.2,274.1 L999.8,274.1 L1000.4,274.1 L1001,274.1 L1001.6,274.1 L1002.2,274.2 L1002.8,274.2 L1003.4,274.2 L1004,274.2 L1004.6,274.2 L1005.2,274.2 L1005.8,274.2 L1006.4,274.3 L1007,274.3 L1007.6,274.3 L1008.1,274.3 L1008.7,274.3 L1009.3,274.3 L1009.9,274.3 L1010.5,274.3 L1011.1,274.4 L1011.7,274.4 L1012.3,274.4 L1012.9,274.4 L1013.5,274.4 L1014.1,274.4 L1014.7,274.4 L1015.3,274.4 L1015.9,274.4 L1016.5,274.4 L1017.1,274.5 L1017.7,274.5 L1018.3,274.5 L1018.9,274.5 L1019.5,274.5 L1020.1,274.5 L1020.7,274.5 L1021.3,274.5 L1021.8,274.5" fill="none" stroke="#4a4a4e" stroke-width="1.8" stroke-linejoin="round"/>
<path d="M616.8,275.1 L617.4,275.1 L618,275.1 L618.6,275.1 L619.2,275.1 L619.8,275.1 L620.3,275.1 L620.9,275.1 L621.5,275.1 L622.1,275.1 L622.7,275.1 L623.3,275.1 L623.9,275.1 L624.5,275.1 L625.1,275.1 L625.7,275.1 L626.3,275.1 L626.9,275.1 L627.5,275.1 L628.1,275.1 L628.7,275.1 L629.3,275.1 L629.9,275.1 L630.5,275.1 L631.1,275.1 L631.7,275.1 L632.3,275.1 L632.9,275.1 L633.5,275.1 L634,275.1 L634.6,275.1 L635.2,275.1 L635.8,275.1 L636.4,275.1 L637,275.1 L637.6,275.1 L638.2,275.1 L638.8,275.1 L639.4,275.1 L640,275.1 L640.6,275.1 L641.2,273.6 L641.8,272.2 L642.4,270.8 L643,269.4 L643.6,268.1 L644.2,266.7 L644.8,265.5 L645.4,264.2 L646,263 L646.6,261.8 L647.2,260.6 L647.7,259.4 L648.3,258.3 L648.9,257.2 L649.5,256.1 L650.1,255.1 L650.7,254 L651.3,253 L651.9,252 L652.5,251.1 L653.1,250.1 L653.7,249.2 L654.3,248.3 L654.9,247.4 L655.5,246.5 L656.1,245.7 L656.7,244.8 L657.3,244 L657.9,243.2 L658.5,242.4 L659.1,241.6 L659.7,240.9 L660.3,240.2 L660.9,239.4 L661.4,238.7 L662,238.1 L662.6,237.4 L663.2,236.7 L663.8,236.1 L664.4,235.4 L665,234.8 L665.6,234.2 L666.2,233.6 L666.8,233.1 L667.4,232.5 L668,231.9 L668.6,231.4 L669.2,230.9 L669.8,230.3 L670.4,229.8 L671,229.3 L671.6,228.8 L672.2,228.4 L672.8,227.9 L673.4,227.4 L674,227 L674.6,226.6 L675.2,226.1 L675.7,225.7 L676.3,225.3 L676.9,224.9 L677.5,224.5 L678.1,224.1 L678.7,223.7 L679.3,223.4 L679.9,223 L680.5,222.7 L681.1,222.3 L681.7,222 L682.3,221.6 L682.9,221.3 L683.5,221 L684.1,220.7 L684.7,220.4 L685.3,220.1 L685.9,219.8 L686.5,219.5 L687.1,219.2 L687.7,219 L688.3,218.7 L688.9,218.4 L689.4,218.2 L690,217.9 L690.6,217.7 L691.2,217.4 L691.8,217.2 L692.4,217 L693,216.7 L693.6,216.5 L694.2,216.3 L694.8,216.1 L695.4,215.9 L696,215.7 L696.6,215.5 L697.2,215.3 L697.8,215.1 L698.4,214.9 L699,214.7 L699.6,214.6 L700.2,214.4 L700.8,214.2 L701.4,214.1 L702,213.9 L702.6,213.7 L703.1,213.6 L703.7,213.4 L704.3,213.3 L704.9,213.1 L705.5,213 L706.1,212.8 L706.7,212.7 L707.3,212.6 L707.9,212.4 L708.5,212.3 L709.1,212.2 L709.7,212.1 L710.3,211.9 L710.9,211.8 L711.5,211.7 L712.1,211.6 L712.7,211.5 L713.3,211.4 L713.9,211.3 L714.5,211.2 L715.1,211.1 L715.7,211 L716.3,210.9 L716.8,210.8 L717.4,210.7 L718,210.6 L718.6,210.5 L719.2,210.4 L719.8,210.3 L720.4,210.2 L721,210.2 L721.6,210.1 L722.2,210 L722.8,209.9 L723.4,209.9 L724,209.8 L724.6,209.7 L725.2,209.6 L725.8,209.6 L726.4,209.5 L727,209.4 L727.6,209.4 L728.2,209.3 L728.8,209.2 L729.4,209.2 L730,209.1 L730.6,209.1 L731.1,209 L731.7,209 L732.3,208.9 L732.9,208.8 L733.5,208.8 L734.1,208.7 L734.7,208.7 L735.3,208.6 L735.9,208.6 L736.5,208.5 L737.1,208.5 L737.7,208.5 L738.3,208.4 L738.9,208.4 L739.5,208.3 L740.1,208.3 L740.7,208.2 L741.3,208.2 L741.9,208.2 L742.5,208.1 L743.1,208.1 L743.7,208.1 L744.3,208 L744.8,208 L745.4,208 L746,207.9 L746.6,207.9 L747.2,207.9 L747.8,207.8 L748.4,207.8 L749,207.8 L749.6,207.7 L750.2,207.7 L750.8,207.7 L751.4,207.7 L752,207.6 L752.6,207.6 L753.2,207.6 L753.8,207.5 L754.4,207.5 L755,207.5 L755.6,207.5 L756.2,207.5 L756.8,207.4 L757.4,207.4 L758,207.4 L758.5,207.4 L759.1,207.3 L759.7,207.3 L760.3,207.3 L760.9,207.3 L761.5,207.3 L762.1,207.2 L762.7,207.2 L763.3,207.2 L763.9,207.2 L764.5,207.2 L765.1,207.2 L765.7,207.1 L766.3,207.1 L766.9,207.1 L767.5,207.1 L768.1,207.1 L768.7,207.1 L769.3,207.1 L769.9,207 L770.5,207 L771.1,207 L771.7,207 L772.2,207 L772.8,207 L773.4,207 L774,206.9 L774.6,206.9 L775.2,206.9 L775.8,206.9 L776.4,206.9 L777,206.9 L777.6,206.9 L778.2,206.9 L778.8,206.9 L779.4,206.9 L780,206.8 L780.6,206.8 L781.2,206.8 L781.8,206.8 L782.4,206.8 L783,206.8 L783.6,206.8 L784.2,206.8 L784.8,206.8 L785.4,206.8 L786,206.8 L786.5,206.7 L787.1,206.7 L787.7,206.7 L788.3,206.7 L788.9,206.7 L789.5,206.7 L790.1,206.7 L790.7,206.7 L791.3,206.7 L791.9,206.7 L792.5,206.7 L793.1,206.7 L793.7,206.7 L794.3,206.7 L794.9,206.7 L795.5,206.7 L796.1,206.6 L796.7,206.6 L797.3,206.6 L797.9,206.6 L798.5,206.6 L799.1,206.6 L799.7,206.6 L800.2,206.6 L800.8,206.6 L801.4,206.6 L802,206.6 L802.6,206.6 L803.2,206.6 L803.8,206.6 L804.4,206.6 L805,206.6 L805.6,206.6 L806.2,206.6 L806.8,206.6 L807.4,206.6 L808,206.6 L808.6,206.6 L809.2,206.6 L809.8,206.5 L810.4,206.5 L811,206.5 L811.6,206.5 L812.2,206.5 L812.8,206.5 L813.4,206.5 L813.9,206.5 L814.5,206.5 L815.1,206.5 L815.7,206.5 L816.3,206.5 L816.9,206.5 L817.5,206.5 L818.1,206.5 L818.7,206.5 L819.3,206.5 L819.9,207.6 L820.5,208.7 L821.1,209.7 L821.7,210.8 L822.3,211.8 L822.9,212.8 L823.5,213.8 L824.1,214.7 L824.7,215.7 L825.3,216.6 L825.9,217.6 L826.5,218.5 L827.1,219.4 L827.6,220.3 L828.2,221.1 L828.8,222 L829.4,222.8 L830,223.7 L830.6,224.5 L831.2,225.3 L831.8,226.1 L832.4,226.8 L833,227.6 L833.6,228.4 L834.2,229.1 L834.8,229.8 L835.4,230.5 L836,231.3 L836.6,231.9 L837.2,232.6 L837.8,233.3 L838.4,234 L839,234.6 L839.6,235.3 L840.2,235.9 L840.8,236.5 L841.4,237.1 L841.9,237.7 L842.5,238.3 L843.1,238.9 L843.7,239.5 L844.3,240 L844.9,240.6 L845.5,241.1 L846.1,241.7 L846.7,242.2 L847.3,242.7 L847.9,243.2 L848.5,243.8 L849.1,244.2 L849.7,244.7 L850.3,245.2 L850.9,245.7 L851.5,246.2 L852.1,246.6 L852.7,247.1 L853.3,247.5 L853.9,248 L854.5,248.4 L855.1,248.8 L855.6,249.2 L856.2,249.6 L856.8,250 L857.4,250.4 L858,250.8 L858.6,251.2 L859.2,251.6 L859.8,252 L860.4,252.3 L861,252.7 L861.6,253 L862.2,253.4 L862.8,253.7 L863.4,254.1 L864,254.4 L864.6,254.7 L865.2,255.1 L865.8,255.4 L866.4,255.7 L867,256 L867.6,256.3 L868.2,256.6 L868.8,256.9 L869.3,257.2 L869.9,257.5 L870.5,257.7 L871.1,258 L871.7,258.3 L872.3,258.5 L872.9,258.8 L873.5,259.1 L874.1,259.3 L874.7,259.6 L875.3,259.8 L875.9,260.1 L876.5,260.3 L877.1,260.5 L877.7,260.8 L878.3,261 L878.9,261.2 L879.5,261.4 L880.1,261.6 L880.7,261.9 L881.3,262.1 L881.9,262.3 L882.5,262.5 L883,262.7 L883.6,262.9 L884.2,263.1 L884.8,263.3 L885.4,263.4 L886,263.6 L886.6,263.8 L887.2,264 L887.8,264.2 L888.4,264.3 L889,264.5 L889.6,264.7 L890.2,264.8 L890.8,265 L891.4,265.2 L892,265.3 L892.6,265.5 L893.2,265.6 L893.8,265.8 L894.4,265.9 L895,266.1 L895.6,266.2 L896.2,266.3 L896.8,266.5 L897.3,266.6 L897.9,266.8 L898.5,266.9 L899.1,267 L899.7,267.1 L900.3,267.3 L900.9,267.4 L901.5,267.5 L902.1,267.6 L902.7,267.8 L903.3,267.9 L903.9,268 L904.5,268.1 L905.1,268.2 L905.7,268.3 L906.3,268.4 L906.9,268.5 L907.5,268.6 L908.1,268.7 L908.7,268.8 L909.3,268.9 L909.9,269 L910.5,269.1 L911,269.2 L911.6,269.3 L912.2,269.4 L912.8,269.5 L913.4,269.6 L914,269.7 L914.6,269.8 L915.2,269.8 L915.8,269.9 L916.4,270 L917,270.1 L917.6,270.2 L918.2,270.2 L918.8,270.3 L919.4,270.4 L920,270.5 L920.6,270.5 L921.2,270.6 L921.8,270.7 L922.4,270.7 L923,270.8 L923.6,270.9 L924.2,270.9 L924.7,271 L925.3,271.1 L925.9,271.1 L926.5,271.2 L927.1,271.3 L927.7,271.3 L928.3,271.4 L928.9,271.4 L929.5,271.5 L930.1,271.6 L930.7,271.6 L931.3,271.7 L931.9,271.7 L932.5,271.8 L933.1,271.8 L933.7,271.9 L934.3,271.9 L934.9,272 L935.5,272 L936.1,272.1 L936.7,272.1 L937.3,272.2 L937.9,272.2 L938.5,272.3 L939,272.3 L939.6,272.3 L940.2,272.4 L940.8,272.4 L941.4,272.5 L942,272.5 L942.6,272.6 L943.2,272.6 L943.8,272.6 L944.4,272.7 L945,272.7 L945.6,272.7 L946.2,272.8 L946.8,272.8 L947.4,272.9 L948,272.9 L948.6,272.9 L949.2,273 L949.8,273 L950.4,273 L951,273.1 L951.6,273.1 L952.2,273.1 L952.7,273.1 L953.3,273.2 L953.9,273.2 L954.5,273.2 L955.1,273.3 L955.7,273.3 L956.3,273.3 L956.9,273.3 L957.5,273.4 L958.1,273.4 L958.7,273.4 L959.3,273.5 L959.9,273.5 L960.5,273.5 L961.1,273.5 L961.7,273.6 L962.3,273.6 L962.9,273.6 L963.5,273.6 L964.1,273.6 L964.7,273.7 L965.3,273.7 L965.9,273.7 L966.4,273.7 L967,273.8 L967.6,273.8 L968.2,273.8 L968.8,273.8 L969.4,273.8 L970,273.9 L970.6,273.9 L971.2,273.9 L971.8,273.9 L972.4,273.9 L973,273.9 L973.6,274 L974.2,274 L974.8,274 L975.4,274 L976,274 L976.6,274 L977.2,274.1 L977.8,274.1 L978.4,274.1 L979,274.1 L979.6,274.1 L980.1,274.1 L980.7,274.2 L981.3,274.2 L981.9,274.2 L982.5,274.2 L983.1,274.2 L983.7,274.2 L984.3,274.2 L984.9,274.2 L985.5,274.3 L986.1,274.3 L986.7,274.3 L987.3,274.3 L987.9,274.3 L988.5,274.3 L989.1,274.3 L989.7,274.3 L990.3,274.4 L990.9,274.4 L991.5,274.4 L992.1,274.4 L992.7,274.4 L993.3,274.4 L993.9,274.4 L994.4,274.4 L995,274.4 L995.6,274.4 L996.2,274.5 L996.8,274.5 L997.4,274.5 L998,274.5 L998.6,274.5 L999.2,274.5 L999.8,274.5 L1000.4,274.5 L1001,274.5 L1001.6,274.5 L1002.2,274.5 L1002.8,274.6 L1003.4,274.6 L1004,274.6 L1004.6,274.6 L1005.2,274.6 L1005.8,274.6 L1006.4,274.6 L1007,274.6 L1007.6,274.6 L1008.1,274.6 L1008.7,274.6 L1009.3,274.6 L1009.9,274.6 L1010.5,274.6 L1011.1,274.7 L1011.7,274.7 L1012.3,274.7 L1012.9,274.7 L1013.5,274.7 L1014.1,274.7 L1014.7,274.7 L1015.3,274.7 L1015.9,274.7 L1016.5,274.7 L1017.1,274.7 L1017.7,274.7 L1018.3,274.7 L1018.9,274.7 L1019.5,274.7 L1020.1,274.7 L1020.7,274.7 L1021.3,274.7 L1021.8,274.8" fill="none" stroke="#4a4a4e" stroke-width="1.8" stroke-linejoin="round"/>
<path d="M616.8,275.1 L617.4,275.1 L618,275.1 L618.6,275.1 L619.2,275.1 L619.8,275.1 L620.3,275.1 L620.9,275.1 L621.5,275.1 L622.1,275.1 L622.7,275.1 L623.3,275.1 L623.9,275.1 L624.5,275.1 L625.1,275.1 L625.7,275.1 L626.3,275.1 L626.9,275.1 L627.5,275.1 L628.1,275.1 L628.7,275.1 L629.3,275.1 L629.9,275.1 L630.5,275.1 L631.1,275.1 L631.7,275.1 L632.3,275.1 L632.9,275.1 L633.5,275.1 L634,275.1 L634.6,275.1 L635.2,275.1 L635.8,275.1 L636.4,275.1 L637,275.1 L637.6,275.1 L638.2,275.1 L638.8,275.1 L639.4,275.1 L640,275.1 L640.6,275.1 L641.2,274.4 L641.8,273.8 L642.4,273.3 L643,272.7 L643.6,272.1 L644.2,271.6 L644.8,271 L645.4,270.5 L646,270 L646.6,269.5 L647.2,269 L647.7,268.5 L648.3,268 L648.9,267.6 L649.5,267.1 L650.1,266.7 L650.7,266.2 L651.3,265.8 L651.9,265.4 L652.5,265 L653.1,264.5 L653.7,264.1 L654.3,263.8 L654.9,263.4 L655.5,263 L656.1,262.6 L656.7,262.3 L657.3,261.9 L657.9,261.6 L658.5,261.2 L659.1,260.9 L659.7,260.6 L660.3,260.3 L660.9,259.9 L661.4,259.6 L662,259.3 L662.6,259 L663.2,258.7 L663.8,258.5 L664.4,258.2 L665,257.9 L665.6,257.6 L666.2,257.4 L666.8,257.1 L667.4,256.9 L668,256.6 L668.6,256.4 L669.2,256.1 L669.8,255.9 L670.4,255.7 L671,255.5 L671.6,255.2 L672.2,255 L672.8,254.8 L673.4,254.6 L674,254.4 L674.6,254.2 L675.2,254 L675.7,253.8 L676.3,253.6 L676.9,253.5 L677.5,253.3 L678.1,253.1 L678.7,252.9 L679.3,252.8 L679.9,252.6 L680.5,252.4 L681.1,252.3 L681.7,252.1 L682.3,252 L682.9,251.8 L683.5,251.7 L684.1,251.5 L684.7,251.4 L685.3,251.3 L685.9,251.1 L686.5,251 L687.1,250.9 L687.7,250.7 L688.3,250.6 L688.9,250.5 L689.4,250.4 L690,250.2 L690.6,250.1 L691.2,250 L691.8,249.9 L692.4,249.8 L693,249.7 L693.6,249.6 L694.2,249.5 L694.8,249.4 L695.4,249.3 L696,249.2 L696.6,249.1 L697.2,249 L697.8,248.9 L698.4,248.8 L699,248.7 L699.6,248.6 L700.2,248.6 L700.8,248.5 L701.4,248.4 L702,248.3 L702.6,248.2 L703.1,248.2 L703.7,248.1 L704.3,248 L704.9,248 L705.5,247.9 L706.1,247.8 L706.7,247.7 L707.3,247.7 L707.9,247.6 L708.5,247.6 L709.1,247.5 L709.7,247.4 L710.3,247.4 L710.9,247.3 L711.5,247.3 L712.1,247.2 L712.7,247.1 L713.3,247.1 L713.9,247 L714.5,247 L715.1,246.9 L715.7,246.9 L716.3,246.8 L716.8,246.8 L717.4,246.7 L718,246.7 L718.6,246.6 L719.2,246.6 L719.8,246.6 L720.4,246.5 L721,246.5 L721.6,246.4 L722.2,246.4 L722.8,246.4 L723.4,246.3 L724,246.3 L724.6,246.2 L725.2,246.2 L725.8,246.2 L726.4,246.1 L727,246.1 L727.6,246.1 L728.2,246 L728.8,246 L729.4,246 L730,245.9 L730.6,245.9 L731.1,245.9 L731.7,245.9 L732.3,245.8 L732.9,245.8 L733.5,245.8 L734.1,245.7 L734.7,245.7 L735.3,245.7 L735.9,245.7 L736.5,245.6 L737.1,245.6 L737.7,245.6 L738.3,245.6 L738.9,245.5 L739.5,245.5 L740.1,245.5 L740.7,245.5 L741.3,245.5 L741.9,245.4 L742.5,245.4 L743.1,245.4 L743.7,245.4 L744.3,245.4 L744.8,245.3 L745.4,245.3 L746,245.3 L746.6,245.3 L747.2,245.3 L747.8,245.3 L748.4,245.2 L749,245.2 L749.6,245.2 L750.2,245.2 L750.8,245.2 L751.4,245.2 L752,245.1 L752.6,245.1 L753.2,245.1 L753.8,245.1 L754.4,245.1 L755,245.1 L755.6,245.1 L756.2,245.1 L756.8,245 L757.4,245 L758,245 L758.5,245 L759.1,245 L759.7,245 L760.3,245 L760.9,245 L761.5,244.9 L762.1,244.9 L762.7,244.9 L763.3,244.9 L763.9,244.9 L764.5,244.9 L765.1,244.9 L765.7,244.9 L766.3,244.9 L766.9,244.9 L767.5,244.9 L768.1,244.8 L768.7,244.8 L769.3,244.8 L769.9,244.8 L770.5,244.8 L771.1,244.8 L771.7,244.8 L772.2,244.8 L772.8,244.8 L773.4,244.8 L774,244.8 L774.6,244.8 L775.2,244.8 L775.8,244.7 L776.4,244.7 L777,244.7 L777.6,244.7 L778.2,244.7 L778.8,244.7 L779.4,244.7 L780,244.7 L780.6,244.7 L781.2,244.7 L781.8,244.7 L782.4,244.7 L783,244.7 L783.6,244.7 L784.2,244.7 L784.8,244.7 L785.4,244.7 L786,244.7 L786.5,244.6 L787.1,244.6 L787.7,244.6 L788.3,244.6 L788.9,244.6 L789.5,244.6 L790.1,244.6 L790.7,244.6 L791.3,244.6 L791.9,244.6 L792.5,244.6 L793.1,244.6 L793.7,244.6 L794.3,244.6 L794.9,244.6 L795.5,244.6 L796.1,244.6 L796.7,244.6 L797.3,244.6 L797.9,244.6 L798.5,244.6 L799.1,244.6 L799.7,244.6 L800.2,244.6 L800.8,244.6 L801.4,244.6 L802,244.6 L802.6,244.6 L803.2,244.5 L803.8,244.5 L804.4,244.5 L805,244.5 L805.6,244.5 L806.2,244.5 L806.8,244.5 L807.4,244.5 L808,244.5 L808.6,244.5 L809.2,244.5 L809.8,244.5 L810.4,244.5 L811,244.5 L811.6,244.5 L812.2,244.5 L812.8,244.5 L813.4,244.5 L813.9,244.5 L814.5,244.5 L815.1,244.5 L815.7,244.5 L816.3,244.5 L816.9,244.5 L817.5,244.5 L818.1,244.5 L818.7,244.5 L819.3,244.5 L819.9,245 L820.5,245.5 L821.1,245.9 L821.7,246.4 L822.3,246.8 L822.9,247.3 L823.5,247.7 L824.1,248.2 L824.7,248.6 L825.3,249 L825.9,249.4 L826.5,249.8 L827.1,250.2 L827.6,250.6 L828.2,251 L828.8,251.4 L829.4,251.8 L830,252.1 L830.6,252.5 L831.2,252.9 L831.8,253.2 L832.4,253.6 L833,253.9 L833.6,254.2 L834.2,254.6 L834.8,254.9 L835.4,255.2 L836,255.5 L836.6,255.8 L837.2,256.1 L837.8,256.4 L838.4,256.7 L839,257 L839.6,257.3 L840.2,257.6 L840.8,257.9 L841.4,258.1 L841.9,258.4 L842.5,258.7 L843.1,258.9 L843.7,259.2 L844.3,259.4 L844.9,259.7 L845.5,259.9 L846.1,260.2 L846.7,260.4 L847.3,260.6 L847.9,260.9 L848.5,261.1 L849.1,261.3 L849.7,261.5 L850.3,261.8 L850.9,262 L851.5,262.2 L852.1,262.4 L852.7,262.6 L853.3,262.8 L853.9,263 L854.5,263.2 L855.1,263.4 L855.6,263.5 L856.2,263.7 L856.8,263.9 L857.4,264.1 L858,264.3 L858.6,264.4 L859.2,264.6 L859.8,264.8 L860.4,264.9 L861,265.1 L861.6,265.2 L862.2,265.4 L862.8,265.5 L863.4,265.7 L864,265.8 L864.6,266 L865.2,266.1 L865.8,266.3 L866.4,266.4 L867,266.6 L867.6,266.7 L868.2,266.8 L868.8,267 L869.3,267.1 L869.9,267.2 L870.5,267.3 L871.1,267.5 L871.7,267.6 L872.3,267.7 L872.9,267.8 L873.5,267.9 L874.1,268 L874.7,268.1 L875.3,268.3 L875.9,268.4 L876.5,268.5 L877.1,268.6 L877.7,268.7 L878.3,268.8 L878.9,268.9 L879.5,269 L880.1,269.1 L880.7,269.2 L881.3,269.3 L881.9,269.4 L882.5,269.4 L883,269.5 L883.6,269.6 L884.2,269.7 L884.8,269.8 L885.4,269.9 L886,270 L886.6,270 L887.2,270.1 L887.8,270.2 L888.4,270.3 L889,270.4 L889.6,270.4 L890.2,270.5 L890.8,270.6 L891.4,270.6 L892,270.7 L892.6,270.8 L893.2,270.8 L893.8,270.9 L894.4,271 L895,271 L895.6,271.1 L896.2,271.2 L896.8,271.2 L897.3,271.3 L897.9,271.4 L898.5,271.4 L899.1,271.5 L899.7,271.5 L900.3,271.6 L900.9,271.6 L901.5,271.7 L902.1,271.7 L902.7,271.8 L903.3,271.8 L903.9,271.9 L904.5,271.9 L905.1,272 L905.7,272 L906.3,272.1 L906.9,272.1 L907.5,272.2 L908.1,272.2 L908.7,272.3 L909.3,272.3 L909.9,272.4 L910.5,272.4 L911,272.4 L911.6,272.5 L912.2,272.5 L912.8,272.6 L913.4,272.6 L914,272.6 L914.6,272.7 L915.2,272.7 L915.8,272.8 L916.4,272.8 L917,272.8 L917.6,272.9 L918.2,272.9 L918.8,272.9 L919.4,273 L920,273 L920.6,273 L921.2,273.1 L921.8,273.1 L922.4,273.1 L923,273.2 L923.6,273.2 L924.2,273.2 L924.7,273.3 L925.3,273.3 L925.9,273.3 L926.5,273.3 L927.1,273.4 L927.7,273.4 L928.3,273.4 L928.9,273.4 L929.5,273.5 L930.1,273.5 L930.7,273.5 L931.3,273.5 L931.9,273.6 L932.5,273.6 L933.1,273.6 L933.7,273.6 L934.3,273.7 L934.9,273.7 L935.5,273.7 L936.1,273.7 L936.7,273.7 L937.3,273.8 L937.9,273.8 L938.5,273.8 L939,273.8 L939.6,273.8 L940.2,273.9 L940.8,273.9 L941.4,273.9 L942,273.9 L942.6,273.9 L943.2,274 L943.8,274 L944.4,274 L945,274 L945.6,274 L946.2,274 L946.8,274.1 L947.4,274.1 L948,274.1 L948.6,274.1 L949.2,274.1 L949.8,274.1 L950.4,274.1 L951,274.2 L951.6,274.2 L952.2,274.2 L952.7,274.2 L953.3,274.2 L953.9,274.2 L954.5,274.2 L955.1,274.3 L955.7,274.3 L956.3,274.3 L956.9,274.3 L957.5,274.3 L958.1,274.3 L958.7,274.3 L959.3,274.3 L959.9,274.3 L960.5,274.4 L961.1,274.4 L961.7,274.4 L962.3,274.4 L962.9,274.4 L963.5,274.4 L964.1,274.4 L964.7,274.4 L965.3,274.4 L965.9,274.5 L966.4,274.5 L967,274.5 L967.6,274.5 L968.2,274.5 L968.8,274.5 L969.4,274.5 L970,274.5 L970.6,274.5 L971.2,274.5 L971.8,274.5 L972.4,274.5 L973,274.6 L973.6,274.6 L974.2,274.6 L974.8,274.6 L975.4,274.6 L976,274.6 L976.6,274.6 L977.2,274.6 L977.8,274.6 L978.4,274.6 L979,274.6 L979.6,274.6 L980.1,274.6 L980.7,274.7 L981.3,274.7 L981.9,274.7 L982.5,274.7 L983.1,274.7 L983.7,274.7 L984.3,274.7 L984.9,274.7 L985.5,274.7 L986.1,274.7 L986.7,274.7 L987.3,274.7 L987.9,274.7 L988.5,274.7 L989.1,274.7 L989.7,274.7 L990.3,274.7 L990.9,274.7 L991.5,274.8 L992.1,274.8 L992.7,274.8 L993.3,274.8 L993.9,274.8 L994.4,274.8 L995,274.8 L995.6,274.8 L996.2,274.8 L996.8,274.8 L997.4,274.8 L998,274.8 L998.6,274.8 L999.2,274.8 L999.8,274.8 L1000.4,274.8 L1001,274.8 L1001.6,274.8 L1002.2,274.8 L1002.8,274.8 L1003.4,274.8 L1004,274.8 L1004.6,274.8 L1005.2,274.8 L1005.8,274.8 L1006.4,274.8 L1007,274.9 L1007.6,274.9 L1008.1,274.9 L1008.7,274.9 L1009.3,274.9 L1009.9,274.9 L1010.5,274.9 L1011.1,274.9 L1011.7,274.9 L1012.3,274.9 L1012.9,274.9 L1013.5,274.9 L1014.1,274.9 L1014.7,274.9 L1015.3,274.9 L1015.9,274.9 L1016.5,274.9 L1017.1,274.9 L1017.7,274.9 L1018.3,274.9 L1018.9,274.9 L1019.5,274.9 L1020.1,274.9 L1020.7,274.9 L1021.3,274.9 L1021.8,274.9" fill="none" stroke="#2e3a58" stroke-width="1.8" stroke-linejoin="round"/>
<path d="M616.8,275.1 L617.4,275.1 L618,275.1 L618.6,275.1 L619.2,275.1 L619.8,275.1 L620.3,275.1 L620.9,275.1 L621.5,275.1 L622.1,275.1 L622.7,275.1 L623.3,275.1 L623.9,275.1 L624.5,275.1 L625.1,275.1 L625.7,275.1 L626.3,275.1 L626.9,275.1 L627.5,275.1 L628.1,275.1 L628.7,275.1 L629.3,275.1 L629.9,275.1 L630.5,275.1 L631.1,275.1 L631.7,275.1 L632.3,275.1 L632.9,275.1 L633.5,275.1 L634,275.1 L634.6,275.1 L635.2,275.1 L635.8,275.1 L636.4,275.1 L637,275.1 L637.6,275.1 L638.2,275.1 L638.8,275.1 L639.4,275.1 L640,275.1 L640.6,275.1 L641.2,274.8 L641.8,274.6 L642.4,274.4 L643,274.2 L643.6,274 L644.2,273.8 L644.8,273.6 L645.4,273.5 L646,273.3 L646.6,273.1 L647.2,272.9 L647.7,272.8 L648.3,272.6 L648.9,272.4 L649.5,272.3 L650.1,272.1 L650.7,271.9 L651.3,271.8 L651.9,271.6 L652.5,271.5 L653.1,271.4 L653.7,271.2 L654.3,271.1 L654.9,270.9 L655.5,270.8 L656.1,270.7 L656.7,270.6 L657.3,270.4 L657.9,270.3 L658.5,270.2 L659.1,270.1 L659.7,270 L660.3,269.8 L660.9,269.7 L661.4,269.6 L662,269.5 L662.6,269.4 L663.2,269.3 L663.8,269.2 L664.4,269.1 L665,269 L665.6,268.9 L666.2,268.8 L666.8,268.7 L667.4,268.7 L668,268.6 L668.6,268.5 L669.2,268.4 L669.8,268.3 L670.4,268.2 L671,268.2 L671.6,268.1 L672.2,268 L672.8,267.9 L673.4,267.9 L674,267.8 L674.6,267.7 L675.2,267.7 L675.7,267.6 L676.3,267.5 L676.9,267.5 L677.5,267.4 L678.1,267.3 L678.7,267.3 L679.3,267.2 L679.9,267.2 L680.5,267.1 L681.1,267 L681.7,267 L682.3,266.9 L682.9,266.9 L683.5,266.8 L684.1,266.8 L684.7,266.7 L685.3,266.7 L685.9,266.6 L686.5,266.6 L687.1,266.5 L687.7,266.5 L688.3,266.5 L688.9,266.4 L689.4,266.4 L690,266.3 L690.6,266.3 L691.2,266.2 L691.8,266.2 L692.4,266.2 L693,266.1 L693.6,266.1 L694.2,266.1 L694.8,266 L695.4,266 L696,266 L696.6,265.9 L697.2,265.9 L697.8,265.9 L698.4,265.8 L699,265.8 L699.6,265.8 L700.2,265.7 L700.8,265.7 L701.4,265.7 L702,265.6 L702.6,265.6 L703.1,265.6 L703.7,265.6 L704.3,265.5 L704.9,265.5 L705.5,265.5 L706.1,265.5 L706.7,265.4 L707.3,265.4 L707.9,265.4 L708.5,265.4 L709.1,265.4 L709.7,265.3 L710.3,265.3 L710.9,265.3 L711.5,265.3 L712.1,265.3 L712.7,265.2 L713.3,265.2 L713.9,265.2 L714.5,265.2 L715.1,265.2 L715.7,265.1 L716.3,265.1 L716.8,265.1 L717.4,265.1 L718,265.1 L718.6,265.1 L719.2,265 L719.8,265 L720.4,265 L721,265 L721.6,265 L722.2,265 L722.8,265 L723.4,264.9 L724,264.9 L724.6,264.9 L725.2,264.9 L725.8,264.9 L726.4,264.9 L727,264.9 L727.6,264.9 L728.2,264.8 L728.8,264.8 L729.4,264.8 L730,264.8 L730.6,264.8 L731.1,264.8 L731.7,264.8 L732.3,264.8 L732.9,264.8 L733.5,264.8 L734.1,264.7 L734.7,264.7 L735.3,264.7 L735.9,264.7 L736.5,264.7 L737.1,264.7 L737.7,264.7 L738.3,264.7 L738.9,264.7 L739.5,264.7 L740.1,264.7 L740.7,264.7 L741.3,264.6 L741.9,264.6 L742.5,264.6 L743.1,264.6 L743.7,264.6 L744.3,264.6 L744.8,264.6 L745.4,264.6 L746,264.6 L746.6,264.6 L747.2,264.6 L747.8,264.6 L748.4,264.6 L749,264.6 L749.6,264.6 L750.2,264.5 L750.8,264.5 L751.4,264.5 L752,264.5 L752.6,264.5 L753.2,264.5 L753.8,264.5 L754.4,264.5 L755,264.5 L755.6,264.5 L756.2,264.5 L756.8,264.5 L757.4,264.5 L758,264.5 L758.5,264.5 L759.1,264.5 L759.7,264.5 L760.3,264.5 L760.9,264.5 L761.5,264.5 L762.1,264.5 L762.7,264.5 L763.3,264.5 L763.9,264.4 L764.5,264.4 L765.1,264.4 L765.7,264.4 L766.3,264.4 L766.9,264.4 L767.5,264.4 L768.1,264.4 L768.7,264.4 L769.3,264.4 L769.9,264.4 L770.5,264.4 L771.1,264.4 L771.7,264.4 L772.2,264.4 L772.8,264.4 L773.4,264.4 L774,264.4 L774.6,264.4 L775.2,264.4 L775.8,264.4 L776.4,264.4 L777,264.4 L777.6,264.4 L778.2,264.4 L778.8,264.4 L779.4,264.4 L780,264.4 L780.6,264.4 L781.2,264.4 L781.8,264.4 L782.4,264.4 L783,264.4 L783.6,264.4 L784.2,264.4 L784.8,264.4 L785.4,264.4 L786,264.4 L786.5,264.4 L787.1,264.4 L787.7,264.4 L788.3,264.4 L788.9,264.4 L789.5,264.3 L790.1,264.3 L790.7,264.3 L791.3,264.3 L791.9,264.3 L792.5,264.3 L793.1,264.3 L793.7,264.3 L794.3,264.3 L794.9,264.3 L795.5,264.3 L796.1,264.3 L796.7,264.3 L797.3,264.3 L797.9,264.3 L798.5,264.3 L799.1,264.3 L799.7,264.3 L800.2,264.3 L800.8,264.3 L801.4,264.3 L802,264.3 L802.6,264.3 L803.2,264.3 L803.8,264.3 L804.4,264.3 L805,264.3 L805.6,264.3 L806.2,264.3 L806.8,264.3 L807.4,264.3 L808,264.3 L808.6,264.3 L809.2,264.3 L809.8,264.3 L810.4,264.3 L811,264.3 L811.6,264.3 L812.2,264.3 L812.8,264.3 L813.4,264.3 L813.9,264.3 L814.5,264.3 L815.1,264.3 L815.7,264.3 L816.3,264.3 L816.9,264.3 L817.5,264.3 L818.1,264.3 L818.7,264.3 L819.3,264.3 L819.9,264.5 L820.5,264.6 L821.1,264.8 L821.7,265 L822.3,265.1 L822.9,265.3 L823.5,265.4 L824.1,265.6 L824.7,265.7 L825.3,265.9 L825.9,266 L826.5,266.2 L827.1,266.3 L827.6,266.5 L828.2,266.6 L828.8,266.7 L829.4,266.9 L830,267 L830.6,267.1 L831.2,267.2 L831.8,267.4 L832.4,267.5 L833,267.6 L833.6,267.7 L834.2,267.8 L834.8,268 L835.4,268.1 L836,268.2 L836.6,268.3 L837.2,268.4 L837.8,268.5 L838.4,268.6 L839,268.7 L839.6,268.8 L840.2,268.9 L840.8,269 L841.4,269.1 L841.9,269.2 L842.5,269.3 L843.1,269.4 L843.7,269.5 L844.3,269.6 L844.9,269.6 L845.5,269.7 L846.1,269.8 L846.7,269.9 L847.3,270 L847.9,270.1 L848.5,270.1 L849.1,270.2 L849.7,270.3 L850.3,270.4 L850.9,270.4 L851.5,270.5 L852.1,270.6 L852.7,270.7 L853.3,270.7 L853.9,270.8 L854.5,270.9 L855.1,270.9 L855.6,271 L856.2,271.1 L856.8,271.1 L857.4,271.2 L858,271.3 L858.6,271.3 L859.2,271.4 L859.8,271.4 L860.4,271.5 L861,271.5 L861.6,271.6 L862.2,271.7 L862.8,271.7 L863.4,271.8 L864,271.8 L864.6,271.9 L865.2,271.9 L865.8,272 L866.4,272 L867,272.1 L867.6,272.1 L868.2,272.2 L868.8,272.2 L869.3,272.2 L869.9,272.3 L870.5,272.3 L871.1,272.4 L871.7,272.4 L872.3,272.5 L872.9,272.5 L873.5,272.5 L874.1,272.6 L874.7,272.6 L875.3,272.7 L875.9,272.7 L876.5,272.7 L877.1,272.8 L877.7,272.8 L878.3,272.8 L878.9,272.9 L879.5,272.9 L880.1,272.9 L880.7,273 L881.3,273 L881.9,273 L882.5,273.1 L883,273.1 L883.6,273.1 L884.2,273.2 L884.8,273.2 L885.4,273.2 L886,273.3 L886.6,273.3 L887.2,273.3 L887.8,273.3 L888.4,273.4 L889,273.4 L889.6,273.4 L890.2,273.4 L890.8,273.5 L891.4,273.5 L892,273.5 L892.6,273.5 L893.2,273.6 L893.8,273.6 L894.4,273.6 L895,273.6 L895.6,273.7 L896.2,273.7 L896.8,273.7 L897.3,273.7 L897.9,273.7 L898.5,273.8 L899.1,273.8 L899.7,273.8 L900.3,273.8 L900.9,273.8 L901.5,273.9 L902.1,273.9 L902.7,273.9 L903.3,273.9 L903.9,273.9 L904.5,274 L905.1,274 L905.7,274 L906.3,274 L906.9,274 L907.5,274 L908.1,274.1 L908.7,274.1 L909.3,274.1 L909.9,274.1 L910.5,274.1 L911,274.1 L911.6,274.2 L912.2,274.2 L912.8,274.2 L913.4,274.2 L914,274.2 L914.6,274.2 L915.2,274.2 L915.8,274.2 L916.4,274.3 L917,274.3 L917.6,274.3 L918.2,274.3 L918.8,274.3 L919.4,274.3 L920,274.3 L920.6,274.3 L921.2,274.4 L921.8,274.4 L922.4,274.4 L923,274.4 L923.6,274.4 L924.2,274.4 L924.7,274.4 L925.3,274.4 L925.9,274.4 L926.5,274.4 L927.1,274.5 L927.7,274.5 L928.3,274.5 L928.9,274.5 L929.5,274.5 L930.1,274.5 L930.7,274.5 L931.3,274.5 L931.9,274.5 L932.5,274.5 L933.1,274.5 L933.7,274.6 L934.3,274.6 L934.9,274.6 L935.5,274.6 L936.1,274.6 L936.7,274.6 L937.3,274.6 L937.9,274.6 L938.5,274.6 L939,274.6 L939.6,274.6 L940.2,274.6 L940.8,274.6 L941.4,274.6 L942,274.7 L942.6,274.7 L943.2,274.7 L943.8,274.7 L944.4,274.7 L945,274.7 L945.6,274.7 L946.2,274.7 L946.8,274.7 L947.4,274.7 L948,274.7 L948.6,274.7 L949.2,274.7 L949.8,274.7 L950.4,274.7 L951,274.7 L951.6,274.7 L952.2,274.7 L952.7,274.8 L953.3,274.8 L953.9,274.8 L954.5,274.8 L955.1,274.8 L955.7,274.8 L956.3,274.8 L956.9,274.8 L957.5,274.8 L958.1,274.8 L958.7,274.8 L959.3,274.8 L959.9,274.8 L960.5,274.8 L961.1,274.8 L961.7,274.8 L962.3,274.8 L962.9,274.8 L963.5,274.8 L964.1,274.8 L964.7,274.8 L965.3,274.8 L965.9,274.8 L966.4,274.8 L967,274.8 L967.6,274.8 L968.2,274.9 L968.8,274.9 L969.4,274.9 L970,274.9 L970.6,274.9 L971.2,274.9 L971.8,274.9 L972.4,274.9 L973,274.9 L973.6,274.9 L974.2,274.9 L974.8,274.9 L975.4,274.9 L976,274.9 L976.6,274.9 L977.2,274.9 L977.8,274.9 L978.4,274.9 L979,274.9 L979.6,274.9 L980.1,274.9 L980.7,274.9 L981.3,274.9 L981.9,274.9 L982.5,274.9 L983.1,274.9 L983.7,274.9 L984.3,274.9 L984.9,274.9 L985.5,274.9 L986.1,274.9 L986.7,274.9 L987.3,274.9 L987.9,274.9 L988.5,274.9 L989.1,274.9 L989.7,274.9 L990.3,274.9 L990.9,274.9 L991.5,274.9 L992.1,274.9 L992.7,274.9 L993.3,274.9 L993.9,275 L994.4,275 L995,275 L995.6,275 L996.2,275 L996.8,275 L997.4,275 L998,275 L998.6,275 L999.2,275 L999.8,275 L1000.4,275 L1001,275 L1001.6,275 L1002.2,275 L1002.8,275 L1003.4,275 L1004,275 L1004.6,275 L1005.2,275 L1005.8,275 L1006.4,275 L1007,275 L1007.6,275 L1008.1,275 L1008.7,275 L1009.3,275 L1009.9,275 L1010.5,275 L1011.1,275 L1011.7,275 L1012.3,275 L1012.9,275 L1013.5,275 L1014.1,275 L1014.7,275 L1015.3,275 L1015.9,275 L1016.5,275 L1017.1,275 L1017.7,275 L1018.3,275 L1018.9,275 L1019.5,275 L1020.1,275 L1020.7,275 L1021.3,275 L1021.8,275" fill="none" stroke="#4a4a4e" stroke-width="1.8" stroke-linejoin="round"/>
<path d="M617.5 272.8 L620 272.3 L622 271.8 L624 272.6 L627 273.4 L630 274" stroke="#5aa88a" stroke-width="2.2" fill="none" opacity="0.85"/>
<path d="M617.5 277.5 L619 279.5 L620.5 278 L622 281 L623.5 278.5 L626 277 L629 276.5" stroke="#b45a96" stroke-width="2.2" fill="none" opacity="0.8"/>
<path d="M617 275.1 H640.6" stroke="#111" stroke-width="2.8" fill="none"/>
<path d="M638.2 275.1V260.3" stroke="#c8c070" stroke-width="1.8"/>
<path d="M638.7 275.1V316.2" stroke="#f0a080" stroke-width="1.6"/>
<path d="M638.5 275.1V290.9" stroke="#d84b8a" stroke-width="2.2"/></g>
<rect x="616.9" y="43" width="405.6" height="275" fill="none" stroke="#1a1a1a" stroke-width="1.6"/>
<path d="M617 317.3H622M617 275.1H622M617 232.8H622M617 190.6H622M617 148.3H622M617 106.1H622M617 63.8H622M616.8 318V312.5M700.2 318V312.5M783.6 318V312.5M867 318V312.5M950.4 318V312.5" stroke="#111" stroke-width="1.7" fill="none"/>
<g class="pb"><text x="606.5" y="323.3" text-anchor="end">-4</text>
<text x="606.5" y="281.1" text-anchor="end">0</text>
<text x="606.5" y="238.8" text-anchor="end">4</text>
<text x="606.5" y="196.6" text-anchor="end">8</text>
<text x="606.5" y="154.3" text-anchor="end">12</text>
<text x="606.5" y="112.1" text-anchor="end">16</text>
<text x="606.5" y="69.8" text-anchor="end">20</text>
<text x="616.8" y="338.7" text-anchor="middle">-20</text>
<text x="700.2" y="338.7" text-anchor="middle">50</text>
<text x="783.6" y="338.7" text-anchor="middle">120</text>
<text x="867" y="338.7" text-anchor="middle">190</text>
<text x="950.4" y="338.7" text-anchor="middle">260</text>
<text x="807.4" y="358.5" text-anchor="middle" style="font-size:17.3px">Time (s)</text>
<text transform="translate(579.5 181.8) rotate(-90)" text-anchor="middle" style="font-size:17.7px">Relative response (RU)</text></g>
</svg>
</body></html>
